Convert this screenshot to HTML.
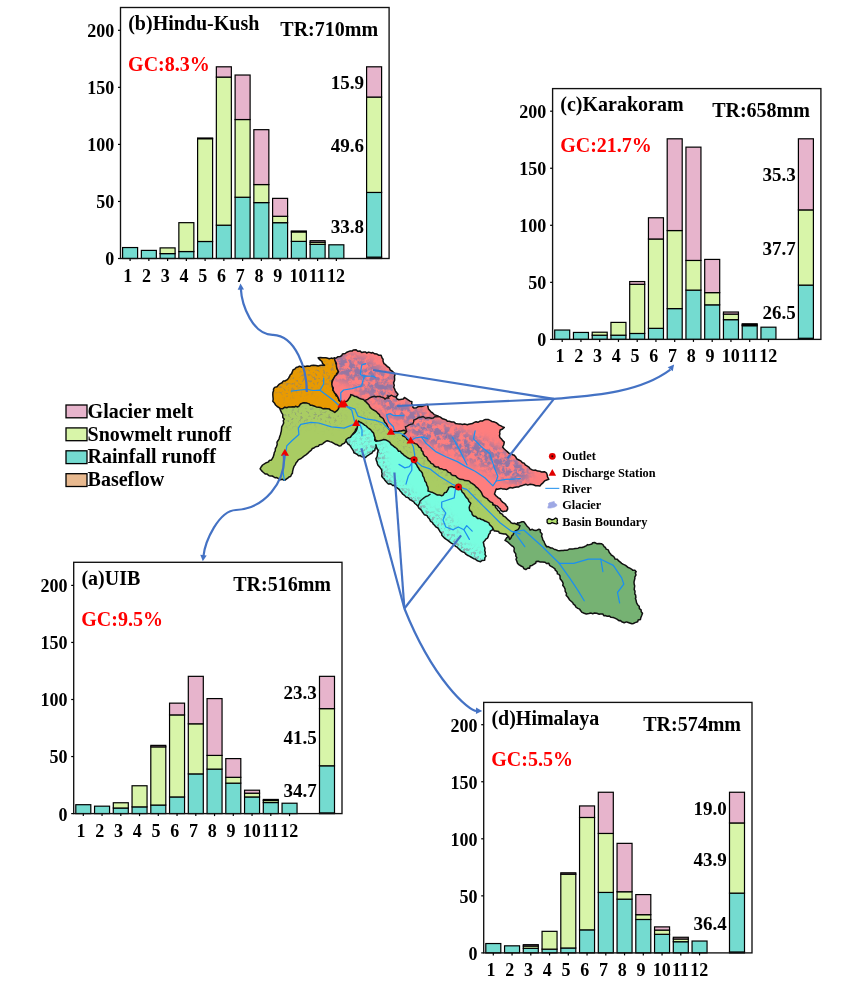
<!DOCTYPE html>
<html><head><meta charset="utf-8"><title>Runoff components</title>
<style>
html,body{margin:0;padding:0;background:#fff;}
svg{display:block;will-change:transform;}
text{font-family:'Liberation Serif',serif;font-weight:bold;fill:#000;}
.tk{font-size:18px;}
.xt{font-size:18px;}
.ti{font-size:20px;}
.gc{font-size:20px;fill:#f00;}
.pc{font-size:19px;}
.lg{font-size:20px;}
.ml{font-size:12.3px;}
</style></head>
<body>
<svg width="864" height="988" viewBox="0 0 864 988">
<defs>
<clipPath id="cpol"><polygon points="279.8,407.7 280.1,409.5 280.9,411.2 281.7,412.8 282.7,414.3 282.8,417.5 284.3,419.2 283.3,420.7 283.7,423.0 282.8,424.9 281.7,426.8 281.6,428.2 281.3,431.2 280.8,432.9 280.5,434.5 279.9,436.0 279.1,438.8 277.9,440.8 277.0,442.1 277.2,444.6 276.3,447.1 275.4,448.5 275.2,451.0 274.3,452.7 273.9,454.8 273.5,456.1 273.0,457.4 271.5,459.9 269.2,460.5 268.6,461.9 266.3,462.7 264.4,463.8 262.6,465.0 261.1,467.0 260.1,468.8 261.5,470.6 262.9,472.0 264.4,473.3 265.2,473.9 267.1,474.1 269.1,475.8 270.9,475.9 272.3,476.0 274.2,477.2 275.4,477.7 276.9,477.6 279.5,479.4 280.2,479.7 282.4,479.3 284.3,480.3 285.6,479.7 288.0,477.8 289.2,476.8 290.6,476.5 291.6,474.3 292.4,473.3 292.6,471.4 293.2,468.8 294.0,466.4 295.4,464.6 295.8,463.3 297.4,461.2 298.3,459.9 299.2,459.4 301.1,458.5 303.4,456.7 304.3,455.8 305.9,454.8 307.7,453.4 309.2,451.8 311.3,450.1 312.3,448.5 314.0,448.0 315.5,446.7 318.3,446.2 319.5,444.7 321.2,444.6 322.7,443.8 323.7,442.9 326.2,441.1 327.6,440.8 329.9,441.6 332.1,442.3 333.9,443.4 335.9,444.6 336.6,444.5 339.0,445.9 340.9,445.7 342.1,444.2 344.1,443.4 345.5,441.8 346.7,440.8 348.3,438.9 350.1,437.7 352.0,436.0 352.7,434.2 354.4,432.1 355.1,431.5 355.7,429.2 357.0,428.0 359.8,427.6 361.2,427.9 364.0,428.0 365.6,428.9 366.4,430.8 368.5,432.4 369.8,433.5 370.4,435.7 372.0,437.0 374.1,438.3 374.8,439.3 376.8,440.8 378.8,443.1 380.0,444.0 381.6,444.2 384.4,445.2 386.4,445.3 387.5,445.7 390.4,446.2 392.0,447.0 393.2,448.1 394.8,449.3 396.9,450.2 397.1,452.5 399.8,453.8 400.6,455.0 402.7,455.2 403.9,457.2 405.0,458.0 406.8,459.3 407.8,460.3 409.3,461.3 411.4,462.8 413.3,463.8 415.0,466.0 416.0,467.0 417.4,469.2 418.1,470.4 417.7,472.3 418.7,473.4 420.1,475.4 420.5,477.6 421.6,478.4 421.9,480.8 423.0,482.0 423.8,484.1 424.5,485.1 425.7,487.7 426.0,489.4 428.0,491.2 428.7,491.8 429.3,494.8 430.0,496.0 431.2,495.8 433.4,496.3 435.5,496.3 437.9,495.8 438.8,496.1 440.7,496.1 443.8,497.4 445.0,497.0 446.3,496.6 448.5,495.9 450.4,495.9 452.5,495.1 453.9,494.6 455.6,494.5 458.0,494.0 459.8,495.3 460.4,496.5 462.3,498.6 464.0,500.0 464.8,501.6 465.2,503.8 465.1,505.2 465.6,507.5 466.0,509.0 466.9,511.0 467.9,512.1 469.1,514.5 470.0,516.0 471.0,516.9 473.1,518.5 475.4,518.8 477.0,520.4 478.0,521.0 479.3,521.8 480.8,523.1 483.2,524.0 485.1,524.6 486.7,525.3 488.0,526.0 489.0,527.4 490.5,528.1 493.2,529.2 494.4,531.1 495.7,531.0 498.7,531.6 499.3,533.0 501.3,533.4 504.0,533.9 505.6,533.9 507.6,535.8 508.8,536.9 509.7,539.4 511.1,537.7 512.1,535.4 513.2,534.8 513.9,532.5 515.3,530.9 518.0,529.7 519.1,528.1 520.0,525.6 516.7,524.2 514.5,523.3 512.6,523.4 511.1,522.8 510.1,521.3 508.2,519.9 506.8,518.5 505.6,517.2 503.1,515.8 502.5,514.3 500.0,513.0 499.2,511.1 498.0,510.5 496.9,508.7 495.5,507.4 495.0,505.3 492.8,504.7 492.8,502.9 491.0,501.8 490.0,500.0 488.3,498.3 487.1,497.4 486.0,495.5 485.3,495.1 483.5,493.4 482.4,492.2 481.4,490.0 479.6,488.3 478.7,487.5 477.0,486.1 476.0,485.3 474.5,484.2 473.7,482.3 472.5,481.2 471.7,479.5 470.0,478.0 468.5,477.2 467.6,475.7 466.0,475.4 464.2,473.2 462.5,472.8 461.7,472.1 460.5,470.0 458.1,468.9 456.7,468.4 456.2,467.6 453.9,466.5 452.6,464.7 451.7,463.2 449.4,463.1 448.3,461.4 447.3,460.7 445.0,459.1 444.2,458.3 442.5,457.3 442.1,455.9 440.0,455.0 438.8,453.2 437.1,452.6 435.5,451.6 435.4,449.2 434.1,448.3 432.6,447.5 430.6,446.1 429.8,445.0 427.9,443.6 427.6,442.2 425.7,440.1 424.3,439.1 423.3,438.3 421.8,436.3 420.6,435.6 418.7,434.7 418.0,432.3 417.1,431.0 415.0,430.5 414.0,429.0 412.8,427.5 411.0,425.9 410.0,425.0 407.9,424.3 407.4,423.1 405.8,421.8 403.7,420.8 403.0,419.4 401.0,418.6 399.9,417.8 397.8,416.9 396.6,416.4 394.8,415.5 393.0,413.7 391.4,412.5 390.9,412.3 388.6,410.6 387.4,410.3 386.4,409.3 384.6,407.5 382.9,406.6 381.5,406.1 380.0,405.0 378.0,403.7 377.3,402.3 375.8,402.5 374.5,400.8 372.4,400.1 371.0,399.7 369.5,397.7 368.2,397.0 366.3,396.3 363.9,395.4 363.3,394.0 361.6,392.9 360.0,392.0 357.7,392.4 355.6,392.8 354.6,393.0 352.6,394.1 351.2,393.4 349.2,394.4 346.2,394.4 345.0,395.0 343.2,395.8 342.2,398.5 340.5,399.8 339.6,400.2 338.4,402.3 337.0,403.9 335.0,405.0 333.5,404.5 331.7,405.1 330.0,404.1 328.0,403.9 325.2,403.0 323.4,403.0 321.6,403.2 320.5,402.9 318.3,402.8 316.3,402.3 315.1,402.0 312.4,402.4 311.4,401.4 309.0,401.4 307.5,400.7 304.8,400.4 304.1,400.0 301.8,399.8 300.0,400.0 297.8,399.7 296.3,399.9 293.9,400.1 292.3,400.8 290.4,400.3 289.1,401.1 287.7,400.8 285.5,401.5 283.1,402.5 282.0,402.0 280.9,403.3 280.5,405.3"/></clipPath>
<filter id="blol" x="200" y="300" width="520" height="380" filterUnits="userSpaceOnUse"><feGaussianBlur stdDeviation="5"/></filter>
<mask id="mkol" maskUnits="userSpaceOnUse" x="200" y="300" width="520" height="380"><g filter="url(#blol)"><path d="M285,418 L310,414 L335,418" fill="none" stroke="#fff" stroke-opacity="0.8" stroke-width="14" stroke-linecap="round" stroke-linejoin="round"/><path d="M360,412 L400,440 L440,470 L480,500" fill="none" stroke="#fff" stroke-opacity="0.6" stroke-width="10" stroke-linecap="round" stroke-linejoin="round"/></g></mask>
<filter id="fol" x="250" y="340" width="420" height="300" filterUnits="userSpaceOnUse"><feTurbulence type="fractalNoise" baseFrequency="0.35" numOctaves="3" seed="21" result="n"/><feColorMatrix in="n" type="matrix" values="0 0 0 0 0  0 0 0 0 0  0 0 0 0 0  6.0 0 0 0 -3.3" result="a"/><feFlood flood-color="#8a9878"/><feComposite in2="a" operator="in"/></filter>
<clipPath id="cpcy"><polygon points="358.5,421.0 360.7,422.6 360.9,422.4 363.1,423.9 365.0,425.4 366.2,425.9 367.6,427.5 368.9,428.5 370.6,429.6 371.9,431.4 373.6,433.1 374.3,436.1 375.0,437.8 374.7,440.1 375.9,441.2 379.4,440.7 381.6,440.2 383.4,439.6 386.3,440.1 388.0,441.0 389.8,442.4 391.2,444.5 392.9,445.6 394.4,447.0 395.4,447.5 396.9,448.8 398.6,451.2 400.2,451.2 401.3,452.8 403.3,454.4 404.5,455.7 406.0,456.7 407.1,457.5 409.2,458.7 411.8,458.6 413.6,459.6 414.5,461.8 415.2,463.0 416.4,464.4 417.5,466.7 418.7,468.3 419.6,470.1 421.0,471.3 422.4,473.3 422.8,475.9 423.9,477.4 424.5,479.4 424.9,481.1 426.3,482.8 426.8,485.2 427.8,486.8 428.2,488.8 428.0,491.0 430.6,491.9 431.9,492.2 433.8,493.2 435.8,494.2 437.5,495.0 439.3,494.9 441.7,495.7 443.1,495.1 444.6,492.7 446.3,492.3 447.2,490.8 448.5,488.7 448.6,487.4 450.9,486.6 452.7,486.8 454.0,487.5 455.8,486.9 458.3,486.7 460.2,487.7 461.1,489.4 462.1,492.0 463.9,493.6 465.2,495.8 466.0,497.1 468.1,499.2 469.0,501.5 470.8,503.3 469.7,505.8 469.2,507.4 469.4,508.9 469.7,510.4 471.7,512.1 472.2,514.4 473.6,516.1 475.8,516.6 477.8,518.6 480.3,518.6 480.8,519.3 483.3,520.0 485.3,521.3 486.5,521.6 488.9,522.8 489.6,524.6 492.0,526.8 493.0,528.3 492.2,530.1 490.3,531.1 490.1,533.1 488.9,534.2 488.4,536.1 487.5,538.1 485.5,539.4 485.2,540.3 483.3,542.2 483.8,544.2 484.0,545.9 485.0,548.2 484.7,550.6 485.3,552.3 485.0,554.3 486.1,556.1 484.9,557.6 484.7,560.3 482.0,560.5 480.6,561.7 478.2,561.0 476.9,560.5 475.0,558.9 473.7,558.7 470.9,557.0 469.4,556.1 467.3,555.2 466.1,554.4 464.5,552.6 462.5,551.9 460.7,550.6 458.4,548.5 457.2,547.2 455.6,546.4 454.0,544.6 451.3,543.2 450.0,542.2 447.8,540.4 446.3,539.4 444.4,538.1 443.0,536.6 441.8,535.3 441.7,533.4 439.9,531.4 438.9,529.7 437.6,527.7 436.0,527.0 434.3,525.0 433.3,524.2 432.3,522.3 430.6,521.3 429.3,518.7 427.8,517.2 427.1,515.6 424.3,514.7 423.0,512.8 422.2,511.7 421.3,510.1 418.7,507.9 418.0,506.1 416.5,504.7 414.9,503.5 413.9,502.0 411.4,500.3 410.0,499.8 408.3,497.8 406.0,497.1 404.8,495.6 402.8,494.2 401.6,492.5 400.2,491.0 399.1,489.4 396.8,487.6 395.3,487.1 394.4,485.2 392.7,485.5 390.8,483.8 388.6,484.1 387.1,482.7 385.1,480.6 384.3,479.1 382.6,477.5 381.7,476.0 382.1,473.7 381.7,472.1 381.7,470.2 381.2,469.1 380.0,467.6 378.2,465.6 377.3,463.5 377.0,461.8 376.4,460.6 375.9,458.6 377.1,456.7 377.5,454.0 377.4,453.2 378.2,450.5 376.9,448.5 376.1,446.1 375.9,444.7 376.1,447.3 375.3,448.0 374.7,450.5 372.9,451.3 371.9,453.1 370.1,454.0 368.5,455.2 366.5,456.4 365.5,457.5 364.4,457.4 361.4,456.6 360.6,455.8 358.5,455.7 357.5,454.7 355.7,453.6 353.9,452.8 353.4,450.9 351.6,448.2 350.5,446.3 349.2,444.6 348.2,444.4 346.9,442.4 345.8,440.1 346.8,439.0 348.7,437.7 350.4,437.3 351.6,435.5 353.4,433.9 355.3,432.1 356.2,430.8 356.9,429.1 357.4,427.4 357.4,425.0 357.6,423.2"/></clipPath>
<filter id="blcy" x="200" y="300" width="520" height="380" filterUnits="userSpaceOnUse"><feGaussianBlur stdDeviation="3"/></filter>
<mask id="mkcy" maskUnits="userSpaceOnUse" x="200" y="300" width="520" height="380"><g filter="url(#blcy)"><path d="M347,444 L360,456 L372,452" fill="none" stroke="#fff" stroke-opacity="1.0" stroke-width="12" stroke-linecap="round" stroke-linejoin="round"/><path d="M358,430 L366,440" fill="none" stroke="#fff" stroke-opacity="0.6" stroke-width="10" stroke-linecap="round" stroke-linejoin="round"/><path d="M378,450 L380,470 L386,482 L400,492 L418,506" fill="none" stroke="#fff" stroke-opacity="1.0" stroke-width="12" stroke-linecap="round" stroke-linejoin="round"/><path d="M420,510 L440,532 L460,550 L482,560" fill="none" stroke="#fff" stroke-opacity="1.0" stroke-width="12" stroke-linecap="round" stroke-linejoin="round"/><path d="M440,512 L455,530" fill="none" stroke="#fff" stroke-opacity="0.5" stroke-width="10" stroke-linecap="round" stroke-linejoin="round"/></g></mask>
<filter id="fcy" x="250" y="340" width="420" height="300" filterUnits="userSpaceOnUse"><feTurbulence type="fractalNoise" baseFrequency="0.35" numOctaves="3" seed="14" result="n"/><feColorMatrix in="n" type="matrix" values="0 0 0 0 0  0 0 0 0 0  0 0 0 0 0  6.0 0 0 0 -2.9" result="a"/><feFlood flood-color="#86a8ac"/><feComposite in2="a" operator="in"/></filter>
<clipPath id="cpor"><polygon points="272.8,394.8 272.9,392.4 273.6,390.6 273.5,389.1 274.6,387.4 277.0,386.7 278.7,384.7 280.2,383.6 282.0,382.8 283.2,381.1 284.9,381.0 287.3,379.7 288.5,378.1 289.8,376.0 290.1,375.0 291.6,373.6 292.7,370.9 293.1,369.8 294.8,369.1 296.2,367.5 297.8,367.0 299.6,366.2 302.1,367.2 303.4,366.2 305.7,366.4 307.0,366.1 309.7,366.3 311.3,365.4 313.5,365.2 315.9,365.6 318.1,366.1 319.8,365.5 322.9,364.9 324.6,365.2 322.6,363.5 321.9,361.5 319.7,359.7 318.1,357.8 320.4,357.6 322.8,357.8 325.7,357.7 327.0,358.0 329.3,358.7 331.3,358.1 332.8,358.4 334.8,357.8 335.1,359.9 336.4,361.2 335.8,363.4 337.3,365.9 337.1,367.5 337.5,369.7 338.5,371.7 336.6,373.5 336.6,375.4 334.8,376.3 334.2,379.1 332.3,380.3 332.0,382.8 332.9,385.0 332.4,387.1 332.9,388.8 333.0,390.2 333.8,391.4 335.1,393.0 336.1,395.8 337.2,396.2 338.5,398.5 338.8,399.9 340.8,402.0 341.3,404.1 339.6,405.8 338.5,408.7 337.3,410.4 334.8,412.4 332.5,410.9 330.5,410.1 329.5,409.1 327.4,408.7 324.9,408.4 323.3,408.8 321.3,407.8 320.4,407.4 318.8,407.2 316.3,406.9 314.1,406.0 311.9,405.3 310.4,405.2 309.3,403.9 307.0,403.1 304.0,402.8 302.4,403.1 300.5,404.0 299.0,406.2 297.8,406.9 295.4,406.3 294.7,407.0 292.9,406.8 290.9,407.1 288.5,406.9 287.1,407.7 284.8,407.2 282.5,408.8 281.1,408.7 279.8,408.1 277.2,406.5 275.6,405.0 274.6,403.3 272.8,401.3 273.2,399.2 273.0,397.2"/></clipPath>
<filter id="blor" x="200" y="300" width="520" height="380" filterUnits="userSpaceOnUse"><feGaussianBlur stdDeviation="6"/></filter>
<mask id="mkor" maskUnits="userSpaceOnUse" x="200" y="300" width="520" height="380"><g filter="url(#blor)"><path d="M285,385 L310,378 L330,372" fill="none" stroke="#fff" stroke-opacity="0.8" stroke-width="24" stroke-linecap="round" stroke-linejoin="round"/></g></mask>
<filter id="for" x="250" y="340" width="420" height="300" filterUnits="userSpaceOnUse"><feTurbulence type="fractalNoise" baseFrequency="0.35" numOctaves="3" seed="28" result="n"/><feColorMatrix in="n" type="matrix" values="0 0 0 0 0  0 0 0 0 0  0 0 0 0 0  6.0 0 0 0 -3.3" result="a"/><feFlood flood-color="#9a8660"/><feComposite in2="a" operator="in"/></filter>
<clipPath id="cppk"><polygon points="334.5,358.5 336.4,357.9 338.0,356.7 340.1,356.5 341.7,355.6 342.4,354.1 345.3,353.5 346.4,352.5 348.9,351.4 350.2,351.0 352.3,350.9 353.5,349.9 356.1,349.7 357.7,351.2 360.2,351.1 361.7,352.5 364.0,352.0 365.6,352.0 366.6,353.0 368.7,352.1 371.6,353.0 372.8,352.5 374.6,353.8 377.0,354.1 378.6,355.2 381.1,355.3 382.1,358.0 383.1,359.2 383.0,361.1 383.9,363.6 385.2,364.4 387.3,366.5 389.4,367.8 390.1,369.8 392.0,371.0 394.0,372.9 395.0,374.7 394.4,376.7 394.6,378.2 394.6,380.3 393.6,383.0 394.3,385.4 393.7,387.2 394.6,388.8 395.2,390.6 395.9,391.8 398.0,394.3 396.1,397.0 397.1,399.0 398.9,399.8 400.3,399.4 403.2,398.9 404.4,397.5 406.0,398.4 408.1,399.8 410.0,401.1 411.9,401.7 411.7,403.9 412.9,405.9 412.8,407.2 414.0,408.1 416.5,407.7 417.8,406.8 420.2,406.3 422.2,406.4 423.7,405.9 425.8,404.6 427.6,404.4 427.8,406.3 428.5,409.1 429.3,410.0 431.6,412.5 432.2,412.6 434.1,414.6 437.1,415.6 438.7,416.5 440.4,417.1 442.6,418.8 444.3,419.3 446.1,419.9 447.4,421.2 449.2,421.3 451.7,422.0 454.0,422.0 455.7,423.6 457.4,423.8 459.1,423.9 460.4,423.9 462.4,424.5 464.5,424.1 467.4,424.7 468.6,424.3 471.2,423.7 472.4,423.6 474.3,422.4 476.1,421.7 477.9,422.3 480.0,421.1 482.7,420.9 484.0,420.0 485.5,419.5 488.1,419.4 490.5,420.7 492.0,421.5 494.6,422.1 496.2,422.7 498.0,424.1 499.2,425.1 501.0,425.9 502.3,426.7 504.3,427.5 502.6,429.0 500.2,430.0 499.6,432.5 499.9,433.9 499.4,435.7 499.9,437.4 501.5,439.1 503.0,440.9 504.3,442.1 503.7,445.0 502.6,447.0 504.0,448.8 506.2,450.7 507.5,451.9 508.9,453.2 511.3,453.8 513.0,454.9 514.0,455.1 515.7,456.8 516.8,458.8 518.9,460.0 521.1,461.2 522.4,462.7 524.0,463.1 525.3,464.8 527.3,466.1 528.8,467.1 530.3,468.9 531.8,469.7 534.0,470.4 535.2,470.0 537.8,471.1 539.9,471.3 541.7,472.1 544.4,471.7 546.4,472.9 547.2,474.7 547.4,476.7 548.8,479.4 546.7,480.0 544.6,480.9 543.2,482.6 541.5,484.1 539.9,485.9 538.1,485.7 535.7,485.8 533.4,484.8 531.8,484.5 530.2,484.3 527.7,485.1 526.1,484.3 524.5,484.7 522.5,485.4 520.5,485.9 518.4,487.1 516.6,486.9 514.0,487.5 512.5,488.0 509.9,487.6 508.3,488.5 506.9,489.4 504.3,489.1 502.4,488.9 500.8,488.4 497.7,489.2 496.2,489.1 495.5,491.0 494.5,494.0 496.0,495.8 496.9,496.5 498.0,497.6 500.4,499.0 501.0,500.5 502.9,502.4 503.7,502.8 505.6,504.4 506.1,505.4 507.5,507.0 507.7,509.0 506.5,511.0 504.4,511.3 502.8,511.7 500.9,510.5 499.9,508.6 499.0,508.0 497.2,506.1 494.8,505.1 493.4,504.6 492.4,502.6 490.3,501.9 488.2,500.0 487.5,498.9 485.2,497.7 483.3,496.4 482.4,494.9 481.4,492.5 480.4,491.1 478.9,489.5 477.8,488.1 476.1,487.0 475.0,485.6 473.9,484.7 471.6,483.1 470.7,482.8 469.4,481.1 468.1,480.7 465.0,480.6 463.7,479.8 462.3,479.4 460.1,479.3 458.3,478.3 456.6,477.1 455.6,475.8 453.3,475.6 451.3,474.6 450.6,473.0 448.5,472.4 447.2,471.0 445.9,469.8 443.5,469.7 441.7,468.8 439.4,468.5 438.5,467.1 436.2,467.0 434.2,466.0 433.4,464.4 430.7,463.1 430.4,462.1 428.1,460.0 427.2,457.9 426.2,456.6 424.7,456.1 423.3,454.0 422.8,451.6 421.5,450.7 421.0,448.2 419.1,447.2 418.0,445.4 416.8,444.1 415.2,443.6 413.1,442.5 411.5,441.0 410.6,440.7 408.3,440.1 407.0,439.3 405.9,437.3 403.9,436.4 402.5,435.5 404.0,434.1 405.8,432.6 406.6,431.4 403.7,430.3 401.1,430.9 399.2,431.0 397.6,431.7 395.6,431.4 393.3,431.6 390.9,431.4 389.4,429.7 388.3,428.3 387.5,426.2 386.4,423.8 384.8,422.2 384.0,420.4 383.2,418.5 382.0,417.7 380.0,416.3 379.4,414.6 377.4,412.9 376.6,411.9 375.6,411.1 373.6,410.0 372.1,409.1 370.4,407.7 369.2,405.6 369.1,405.0 366.9,402.9 366.6,402.3 364.7,400.8 363.4,399.5 361.4,399.0 359.1,398.2 357.9,397.5 355.9,396.4 354.7,396.4 353.0,395.3 350.8,394.6 350.4,396.5 349.1,398.4 348.0,400.1 346.8,401.2 344.4,401.9 343.1,403.1 342.0,405.0 341.7,403.3 340.6,401.1 339.3,400.7 338.5,398.5 337.6,396.7 336.3,394.6 334.7,393.0 333.9,391.7 333.0,390.2 333.3,387.9 332.2,386.2 331.8,384.4 332.0,382.8 332.6,380.6 333.2,379.1 334.8,376.3 335.8,375.4 337.5,373.5 338.5,371.7 337.9,370.4 336.8,368.1 336.4,366.1 336.4,363.5 335.5,362.0 334.6,359.6"/></clipPath>
<filter id="blpk" x="200" y="300" width="520" height="380" filterUnits="userSpaceOnUse"><feGaussianBlur stdDeviation="5"/></filter>
<mask id="mkpk" maskUnits="userSpaceOnUse" x="200" y="300" width="520" height="380"><g filter="url(#blpk)"><path d="M340,366 L362,372 L385,385" fill="none" stroke="#fff" stroke-opacity="0.95" stroke-width="26" stroke-linecap="round" stroke-linejoin="round"/><path d="M390,408 L410,414 L425,424" fill="none" stroke="#fff" stroke-opacity="0.95" stroke-width="18" stroke-linecap="round" stroke-linejoin="round"/><path d="M420,428 L448,438 L475,450 L500,462 L518,472" fill="none" stroke="#fff" stroke-opacity="1.0" stroke-width="24" stroke-linecap="round" stroke-linejoin="round"/><path d="M360,394 L385,398 L400,403" fill="none" stroke="#fff" stroke-opacity="0.8" stroke-width="10" stroke-linecap="round" stroke-linejoin="round"/></g></mask>
<filter id="fpk" x="250" y="340" width="420" height="300" filterUnits="userSpaceOnUse"><feTurbulence type="fractalNoise" baseFrequency="0.2" numOctaves="3" seed="35" result="n"/><feColorMatrix in="n" type="matrix" values="0 0 0 0 0  0 0 0 0 0  0 0 0 0 0  5.0 0 0 0 -1.9" result="a"/><feFlood flood-color="#8d76a6"/><feComposite in2="a" operator="in"/></filter>
</defs>
<polygon points="517.5,522.7 519.1,522.9 522.0,521.7 523.8,521.7 525.0,523.3 526.5,525.4 526.9,526.0 529.2,528.2 530.0,530.0 532.4,529.3 534.1,530.3 535.9,530.6 538.9,529.3 540.4,530.0 540.3,532.1 542.1,534.0 541.6,536.1 542.5,538.3 542.7,539.6 544.1,541.7 544.6,543.0 545.5,545.0 546.7,546.7 548.2,546.6 550.7,548.0 552.3,548.0 554.5,549.5 555.1,549.4 557.7,550.5 559.2,550.8 561.6,550.4 563.3,550.5 564.4,550.2 567.0,550.3 568.3,549.6 569.5,548.9 572.3,548.9 573.8,548.8 575.4,548.4 578.2,548.2 579.8,547.4 582.1,547.5 584.2,546.7 586.0,545.9 587.7,544.6 588.8,544.9 591.8,544.0 592.7,542.7 594.6,542.5 596.7,543.7 599.1,543.6 601.3,543.7 602.9,544.6 604.1,546.7 605.4,547.5 606.2,549.1 608.3,549.9 609.3,552.5 610.6,553.9 611.2,555.0 613.2,556.2 614.3,557.3 615.1,559.1 617.3,559.3 618.7,560.9 620.0,561.9 621.7,563.3 623.4,564.4 625.1,565.1 625.9,565.7 627.7,567.2 630.3,568.4 631.8,569.3 632.7,570.3 634.9,570.2 636.2,571.7 635.3,572.8 636.0,574.9 634.8,577.2 634.9,578.2 634.3,580.7 634.0,582.1 634.2,584.2 634.7,586.0 634.4,587.9 634.2,589.6 635.0,591.1 634.8,594.0 635.6,594.9 635.9,597.6 635.4,598.3 636.2,600.8 636.6,602.9 637.6,604.7 639.2,606.2 639.4,608.6 641.1,609.8 641.2,611.7 642.5,613.3 641.7,615.5 640.8,617.7 640.4,619.6 638.1,620.1 637.7,621.8 635.1,622.6 633.4,623.5 632.0,623.8 630.3,623.2 627.5,622.2 626.4,621.9 624.2,622.8 621.7,621.7 620.1,620.4 618.9,620.7 616.9,619.2 614.8,618.1 613.3,617.5 611.0,617.3 609.5,616.1 607.2,616.3 605.6,615.6 603.8,615.7 602.8,614.0 600.0,614.0 599.2,614.2 596.7,613.3 594.4,612.9 592.8,613.8 591.1,613.1 588.9,613.6 586.3,614.0 584.2,613.3 582.1,612.4 580.3,610.3 579.7,609.1 577.8,608.4 575.8,607.0 575.1,605.3 573.2,603.8 572.8,602.7 571.7,601.7 569.4,599.7 568.1,597.5 567.5,596.7 566.2,595.4 566.5,593.4 565.2,591.3 565.1,589.1 564.1,587.0 562.7,585.2 563.2,583.8 562.5,581.8 561.2,580.0 560.1,578.7 560.0,576.0 559.0,574.4 557.4,573.9 557.1,571.7 555.1,569.9 555.0,568.8 552.4,567.0 551.2,566.4 549.6,565.3 548.8,563.3 546.5,563.5 545.1,562.2 542.1,562.0 539.8,561.9 538.3,561.2 536.1,561.6 535.8,563.0 533.7,564.3 532.0,565.4 530.2,565.8 529.5,568.2 528.0,568.0 525.8,569.6 523.7,568.5 523.2,567.1 521.1,566.0 518.8,564.6 517.5,563.3 516.8,561.1 516.0,559.3 516.8,557.7 515.8,556.1 515.8,553.9 514.4,552.0 514.0,550.9 514.3,548.3 513.3,546.7 511.4,545.5 510.1,544.3 508.0,542.2 506.3,541.1 505.0,540.4 506.3,538.3 506.9,537.6 508.5,536.4 510.0,535.0 511.2,533.0 511.8,531.3 513.7,529.0 515.0,527.4 515.8,526.8 516.9,524.2" fill="#76b273"/>
<polygon points="517.5,522.7 519.1,522.9 522.0,521.7 523.8,521.7 525.0,523.3 526.5,525.4 526.9,526.0 529.2,528.2 530.0,530.0 532.4,529.3 534.1,530.3 535.9,530.6 538.9,529.3 540.4,530.0 540.3,532.1 542.1,534.0 541.6,536.1 542.5,538.3 542.7,539.6 544.1,541.7 544.6,543.0 545.5,545.0 546.7,546.7 548.2,546.6 550.7,548.0 552.3,548.0 554.5,549.5 555.1,549.4 557.7,550.5 559.2,550.8 561.6,550.4 563.3,550.5 564.4,550.2 567.0,550.3 568.3,549.6 569.5,548.9 572.3,548.9 573.8,548.8 575.4,548.4 578.2,548.2 579.8,547.4 582.1,547.5 584.2,546.7 586.0,545.9 587.7,544.6 588.8,544.9 591.8,544.0 592.7,542.7 594.6,542.5 596.7,543.7 599.1,543.6 601.3,543.7 602.9,544.6 604.1,546.7 605.4,547.5 606.2,549.1 608.3,549.9 609.3,552.5 610.6,553.9 611.2,555.0 613.2,556.2 614.3,557.3 615.1,559.1 617.3,559.3 618.7,560.9 620.0,561.9 621.7,563.3 623.4,564.4 625.1,565.1 625.9,565.7 627.7,567.2 630.3,568.4 631.8,569.3 632.7,570.3 634.9,570.2 636.2,571.7 635.3,572.8 636.0,574.9 634.8,577.2 634.9,578.2 634.3,580.7 634.0,582.1 634.2,584.2 634.7,586.0 634.4,587.9 634.2,589.6 635.0,591.1 634.8,594.0 635.6,594.9 635.9,597.6 635.4,598.3 636.2,600.8 636.6,602.9 637.6,604.7 639.2,606.2 639.4,608.6 641.1,609.8 641.2,611.7 642.5,613.3 641.7,615.5 640.8,617.7 640.4,619.6 638.1,620.1 637.7,621.8 635.1,622.6 633.4,623.5 632.0,623.8 630.3,623.2 627.5,622.2 626.4,621.9 624.2,622.8 621.7,621.7 620.1,620.4 618.9,620.7 616.9,619.2 614.8,618.1 613.3,617.5 611.0,617.3 609.5,616.1 607.2,616.3 605.6,615.6 603.8,615.7 602.8,614.0 600.0,614.0 599.2,614.2 596.7,613.3 594.4,612.9 592.8,613.8 591.1,613.1 588.9,613.6 586.3,614.0 584.2,613.3 582.1,612.4 580.3,610.3 579.7,609.1 577.8,608.4 575.8,607.0 575.1,605.3 573.2,603.8 572.8,602.7 571.7,601.7 569.4,599.7 568.1,597.5 567.5,596.7 566.2,595.4 566.5,593.4 565.2,591.3 565.1,589.1 564.1,587.0 562.7,585.2 563.2,583.8 562.5,581.8 561.2,580.0 560.1,578.7 560.0,576.0 559.0,574.4 557.4,573.9 557.1,571.7 555.1,569.9 555.0,568.8 552.4,567.0 551.2,566.4 549.6,565.3 548.8,563.3 546.5,563.5 545.1,562.2 542.1,562.0 539.8,561.9 538.3,561.2 536.1,561.6 535.8,563.0 533.7,564.3 532.0,565.4 530.2,565.8 529.5,568.2 528.0,568.0 525.8,569.6 523.7,568.5 523.2,567.1 521.1,566.0 518.8,564.6 517.5,563.3 516.8,561.1 516.0,559.3 516.8,557.7 515.8,556.1 515.8,553.9 514.4,552.0 514.0,550.9 514.3,548.3 513.3,546.7 511.4,545.5 510.1,544.3 508.0,542.2 506.3,541.1 505.0,540.4 506.3,538.3 506.9,537.6 508.5,536.4 510.0,535.0 511.2,533.0 511.8,531.3 513.7,529.0 515.0,527.4 515.8,526.8 516.9,524.2" fill="none" stroke="#111" stroke-width="1.5" stroke-linejoin="round"/>
<polygon points="279.8,407.7 280.1,409.5 280.9,411.2 281.7,412.8 282.7,414.3 282.8,417.5 284.3,419.2 283.3,420.7 283.7,423.0 282.8,424.9 281.7,426.8 281.6,428.2 281.3,431.2 280.8,432.9 280.5,434.5 279.9,436.0 279.1,438.8 277.9,440.8 277.0,442.1 277.2,444.6 276.3,447.1 275.4,448.5 275.2,451.0 274.3,452.7 273.9,454.8 273.5,456.1 273.0,457.4 271.5,459.9 269.2,460.5 268.6,461.9 266.3,462.7 264.4,463.8 262.6,465.0 261.1,467.0 260.1,468.8 261.5,470.6 262.9,472.0 264.4,473.3 265.2,473.9 267.1,474.1 269.1,475.8 270.9,475.9 272.3,476.0 274.2,477.2 275.4,477.7 276.9,477.6 279.5,479.4 280.2,479.7 282.4,479.3 284.3,480.3 285.6,479.7 288.0,477.8 289.2,476.8 290.6,476.5 291.6,474.3 292.4,473.3 292.6,471.4 293.2,468.8 294.0,466.4 295.4,464.6 295.8,463.3 297.4,461.2 298.3,459.9 299.2,459.4 301.1,458.5 303.4,456.7 304.3,455.8 305.9,454.8 307.7,453.4 309.2,451.8 311.3,450.1 312.3,448.5 314.0,448.0 315.5,446.7 318.3,446.2 319.5,444.7 321.2,444.6 322.7,443.8 323.7,442.9 326.2,441.1 327.6,440.8 329.9,441.6 332.1,442.3 333.9,443.4 335.9,444.6 336.6,444.5 339.0,445.9 340.9,445.7 342.1,444.2 344.1,443.4 345.5,441.8 346.7,440.8 348.3,438.9 350.1,437.7 352.0,436.0 352.7,434.2 354.4,432.1 355.1,431.5 355.7,429.2 357.0,428.0 359.8,427.6 361.2,427.9 364.0,428.0 365.6,428.9 366.4,430.8 368.5,432.4 369.8,433.5 370.4,435.7 372.0,437.0 374.1,438.3 374.8,439.3 376.8,440.8 378.8,443.1 380.0,444.0 381.6,444.2 384.4,445.2 386.4,445.3 387.5,445.7 390.4,446.2 392.0,447.0 393.2,448.1 394.8,449.3 396.9,450.2 397.1,452.5 399.8,453.8 400.6,455.0 402.7,455.2 403.9,457.2 405.0,458.0 406.8,459.3 407.8,460.3 409.3,461.3 411.4,462.8 413.3,463.8 415.0,466.0 416.0,467.0 417.4,469.2 418.1,470.4 417.7,472.3 418.7,473.4 420.1,475.4 420.5,477.6 421.6,478.4 421.9,480.8 423.0,482.0 423.8,484.1 424.5,485.1 425.7,487.7 426.0,489.4 428.0,491.2 428.7,491.8 429.3,494.8 430.0,496.0 431.2,495.8 433.4,496.3 435.5,496.3 437.9,495.8 438.8,496.1 440.7,496.1 443.8,497.4 445.0,497.0 446.3,496.6 448.5,495.9 450.4,495.9 452.5,495.1 453.9,494.6 455.6,494.5 458.0,494.0 459.8,495.3 460.4,496.5 462.3,498.6 464.0,500.0 464.8,501.6 465.2,503.8 465.1,505.2 465.6,507.5 466.0,509.0 466.9,511.0 467.9,512.1 469.1,514.5 470.0,516.0 471.0,516.9 473.1,518.5 475.4,518.8 477.0,520.4 478.0,521.0 479.3,521.8 480.8,523.1 483.2,524.0 485.1,524.6 486.7,525.3 488.0,526.0 489.0,527.4 490.5,528.1 493.2,529.2 494.4,531.1 495.7,531.0 498.7,531.6 499.3,533.0 501.3,533.4 504.0,533.9 505.6,533.9 507.6,535.8 508.8,536.9 509.7,539.4 511.1,537.7 512.1,535.4 513.2,534.8 513.9,532.5 515.3,530.9 518.0,529.7 519.1,528.1 520.0,525.6 516.7,524.2 514.5,523.3 512.6,523.4 511.1,522.8 510.1,521.3 508.2,519.9 506.8,518.5 505.6,517.2 503.1,515.8 502.5,514.3 500.0,513.0 499.2,511.1 498.0,510.5 496.9,508.7 495.5,507.4 495.0,505.3 492.8,504.7 492.8,502.9 491.0,501.8 490.0,500.0 488.3,498.3 487.1,497.4 486.0,495.5 485.3,495.1 483.5,493.4 482.4,492.2 481.4,490.0 479.6,488.3 478.7,487.5 477.0,486.1 476.0,485.3 474.5,484.2 473.7,482.3 472.5,481.2 471.7,479.5 470.0,478.0 468.5,477.2 467.6,475.7 466.0,475.4 464.2,473.2 462.5,472.8 461.7,472.1 460.5,470.0 458.1,468.9 456.7,468.4 456.2,467.6 453.9,466.5 452.6,464.7 451.7,463.2 449.4,463.1 448.3,461.4 447.3,460.7 445.0,459.1 444.2,458.3 442.5,457.3 442.1,455.9 440.0,455.0 438.8,453.2 437.1,452.6 435.5,451.6 435.4,449.2 434.1,448.3 432.6,447.5 430.6,446.1 429.8,445.0 427.9,443.6 427.6,442.2 425.7,440.1 424.3,439.1 423.3,438.3 421.8,436.3 420.6,435.6 418.7,434.7 418.0,432.3 417.1,431.0 415.0,430.5 414.0,429.0 412.8,427.5 411.0,425.9 410.0,425.0 407.9,424.3 407.4,423.1 405.8,421.8 403.7,420.8 403.0,419.4 401.0,418.6 399.9,417.8 397.8,416.9 396.6,416.4 394.8,415.5 393.0,413.7 391.4,412.5 390.9,412.3 388.6,410.6 387.4,410.3 386.4,409.3 384.6,407.5 382.9,406.6 381.5,406.1 380.0,405.0 378.0,403.7 377.3,402.3 375.8,402.5 374.5,400.8 372.4,400.1 371.0,399.7 369.5,397.7 368.2,397.0 366.3,396.3 363.9,395.4 363.3,394.0 361.6,392.9 360.0,392.0 357.7,392.4 355.6,392.8 354.6,393.0 352.6,394.1 351.2,393.4 349.2,394.4 346.2,394.4 345.0,395.0 343.2,395.8 342.2,398.5 340.5,399.8 339.6,400.2 338.4,402.3 337.0,403.9 335.0,405.0 333.5,404.5 331.7,405.1 330.0,404.1 328.0,403.9 325.2,403.0 323.4,403.0 321.6,403.2 320.5,402.9 318.3,402.8 316.3,402.3 315.1,402.0 312.4,402.4 311.4,401.4 309.0,401.4 307.5,400.7 304.8,400.4 304.1,400.0 301.8,399.8 300.0,400.0 297.8,399.7 296.3,399.9 293.9,400.1 292.3,400.8 290.4,400.3 289.1,401.1 287.7,400.8 285.5,401.5 283.1,402.5 282.0,402.0 280.9,403.3 280.5,405.3" fill="#a9cc63"/>
<g clip-path="url(#cpol)"><g mask="url(#mkol)"><rect x="250" y="340" width="420" height="300" filter="url(#fol)"/></g></g>
<polygon points="279.8,407.7 280.1,409.5 280.9,411.2 281.7,412.8 282.7,414.3 282.8,417.5 284.3,419.2 283.3,420.7 283.7,423.0 282.8,424.9 281.7,426.8 281.6,428.2 281.3,431.2 280.8,432.9 280.5,434.5 279.9,436.0 279.1,438.8 277.9,440.8 277.0,442.1 277.2,444.6 276.3,447.1 275.4,448.5 275.2,451.0 274.3,452.7 273.9,454.8 273.5,456.1 273.0,457.4 271.5,459.9 269.2,460.5 268.6,461.9 266.3,462.7 264.4,463.8 262.6,465.0 261.1,467.0 260.1,468.8 261.5,470.6 262.9,472.0 264.4,473.3 265.2,473.9 267.1,474.1 269.1,475.8 270.9,475.9 272.3,476.0 274.2,477.2 275.4,477.7 276.9,477.6 279.5,479.4 280.2,479.7 282.4,479.3 284.3,480.3 285.6,479.7 288.0,477.8 289.2,476.8 290.6,476.5 291.6,474.3 292.4,473.3 292.6,471.4 293.2,468.8 294.0,466.4 295.4,464.6 295.8,463.3 297.4,461.2 298.3,459.9 299.2,459.4 301.1,458.5 303.4,456.7 304.3,455.8 305.9,454.8 307.7,453.4 309.2,451.8 311.3,450.1 312.3,448.5 314.0,448.0 315.5,446.7 318.3,446.2 319.5,444.7 321.2,444.6 322.7,443.8 323.7,442.9 326.2,441.1 327.6,440.8 329.9,441.6 332.1,442.3 333.9,443.4 335.9,444.6 336.6,444.5 339.0,445.9 340.9,445.7 342.1,444.2 344.1,443.4 345.5,441.8 346.7,440.8 348.3,438.9 350.1,437.7 352.0,436.0 352.7,434.2 354.4,432.1 355.1,431.5 355.7,429.2 357.0,428.0 359.8,427.6 361.2,427.9 364.0,428.0 365.6,428.9 366.4,430.8 368.5,432.4 369.8,433.5 370.4,435.7 372.0,437.0 374.1,438.3 374.8,439.3 376.8,440.8 378.8,443.1 380.0,444.0 381.6,444.2 384.4,445.2 386.4,445.3 387.5,445.7 390.4,446.2 392.0,447.0 393.2,448.1 394.8,449.3 396.9,450.2 397.1,452.5 399.8,453.8 400.6,455.0 402.7,455.2 403.9,457.2 405.0,458.0 406.8,459.3 407.8,460.3 409.3,461.3 411.4,462.8 413.3,463.8 415.0,466.0 416.0,467.0 417.4,469.2 418.1,470.4 417.7,472.3 418.7,473.4 420.1,475.4 420.5,477.6 421.6,478.4 421.9,480.8 423.0,482.0 423.8,484.1 424.5,485.1 425.7,487.7 426.0,489.4 428.0,491.2 428.7,491.8 429.3,494.8 430.0,496.0 431.2,495.8 433.4,496.3 435.5,496.3 437.9,495.8 438.8,496.1 440.7,496.1 443.8,497.4 445.0,497.0 446.3,496.6 448.5,495.9 450.4,495.9 452.5,495.1 453.9,494.6 455.6,494.5 458.0,494.0 459.8,495.3 460.4,496.5 462.3,498.6 464.0,500.0 464.8,501.6 465.2,503.8 465.1,505.2 465.6,507.5 466.0,509.0 466.9,511.0 467.9,512.1 469.1,514.5 470.0,516.0 471.0,516.9 473.1,518.5 475.4,518.8 477.0,520.4 478.0,521.0 479.3,521.8 480.8,523.1 483.2,524.0 485.1,524.6 486.7,525.3 488.0,526.0 489.0,527.4 490.5,528.1 493.2,529.2 494.4,531.1 495.7,531.0 498.7,531.6 499.3,533.0 501.3,533.4 504.0,533.9 505.6,533.9 507.6,535.8 508.8,536.9 509.7,539.4 511.1,537.7 512.1,535.4 513.2,534.8 513.9,532.5 515.3,530.9 518.0,529.7 519.1,528.1 520.0,525.6 516.7,524.2 514.5,523.3 512.6,523.4 511.1,522.8 510.1,521.3 508.2,519.9 506.8,518.5 505.6,517.2 503.1,515.8 502.5,514.3 500.0,513.0 499.2,511.1 498.0,510.5 496.9,508.7 495.5,507.4 495.0,505.3 492.8,504.7 492.8,502.9 491.0,501.8 490.0,500.0 488.3,498.3 487.1,497.4 486.0,495.5 485.3,495.1 483.5,493.4 482.4,492.2 481.4,490.0 479.6,488.3 478.7,487.5 477.0,486.1 476.0,485.3 474.5,484.2 473.7,482.3 472.5,481.2 471.7,479.5 470.0,478.0 468.5,477.2 467.6,475.7 466.0,475.4 464.2,473.2 462.5,472.8 461.7,472.1 460.5,470.0 458.1,468.9 456.7,468.4 456.2,467.6 453.9,466.5 452.6,464.7 451.7,463.2 449.4,463.1 448.3,461.4 447.3,460.7 445.0,459.1 444.2,458.3 442.5,457.3 442.1,455.9 440.0,455.0 438.8,453.2 437.1,452.6 435.5,451.6 435.4,449.2 434.1,448.3 432.6,447.5 430.6,446.1 429.8,445.0 427.9,443.6 427.6,442.2 425.7,440.1 424.3,439.1 423.3,438.3 421.8,436.3 420.6,435.6 418.7,434.7 418.0,432.3 417.1,431.0 415.0,430.5 414.0,429.0 412.8,427.5 411.0,425.9 410.0,425.0 407.9,424.3 407.4,423.1 405.8,421.8 403.7,420.8 403.0,419.4 401.0,418.6 399.9,417.8 397.8,416.9 396.6,416.4 394.8,415.5 393.0,413.7 391.4,412.5 390.9,412.3 388.6,410.6 387.4,410.3 386.4,409.3 384.6,407.5 382.9,406.6 381.5,406.1 380.0,405.0 378.0,403.7 377.3,402.3 375.8,402.5 374.5,400.8 372.4,400.1 371.0,399.7 369.5,397.7 368.2,397.0 366.3,396.3 363.9,395.4 363.3,394.0 361.6,392.9 360.0,392.0 357.7,392.4 355.6,392.8 354.6,393.0 352.6,394.1 351.2,393.4 349.2,394.4 346.2,394.4 345.0,395.0 343.2,395.8 342.2,398.5 340.5,399.8 339.6,400.2 338.4,402.3 337.0,403.9 335.0,405.0 333.5,404.5 331.7,405.1 330.0,404.1 328.0,403.9 325.2,403.0 323.4,403.0 321.6,403.2 320.5,402.9 318.3,402.8 316.3,402.3 315.1,402.0 312.4,402.4 311.4,401.4 309.0,401.4 307.5,400.7 304.8,400.4 304.1,400.0 301.8,399.8 300.0,400.0 297.8,399.7 296.3,399.9 293.9,400.1 292.3,400.8 290.4,400.3 289.1,401.1 287.7,400.8 285.5,401.5 283.1,402.5 282.0,402.0 280.9,403.3 280.5,405.3" fill="none" stroke="#111" stroke-width="1.5" stroke-linejoin="round"/>
<polygon points="358.5,421.0 360.7,422.6 360.9,422.4 363.1,423.9 365.0,425.4 366.2,425.9 367.6,427.5 368.9,428.5 370.6,429.6 371.9,431.4 373.6,433.1 374.3,436.1 375.0,437.8 374.7,440.1 375.9,441.2 379.4,440.7 381.6,440.2 383.4,439.6 386.3,440.1 388.0,441.0 389.8,442.4 391.2,444.5 392.9,445.6 394.4,447.0 395.4,447.5 396.9,448.8 398.6,451.2 400.2,451.2 401.3,452.8 403.3,454.4 404.5,455.7 406.0,456.7 407.1,457.5 409.2,458.7 411.8,458.6 413.6,459.6 414.5,461.8 415.2,463.0 416.4,464.4 417.5,466.7 418.7,468.3 419.6,470.1 421.0,471.3 422.4,473.3 422.8,475.9 423.9,477.4 424.5,479.4 424.9,481.1 426.3,482.8 426.8,485.2 427.8,486.8 428.2,488.8 428.0,491.0 430.6,491.9 431.9,492.2 433.8,493.2 435.8,494.2 437.5,495.0 439.3,494.9 441.7,495.7 443.1,495.1 444.6,492.7 446.3,492.3 447.2,490.8 448.5,488.7 448.6,487.4 450.9,486.6 452.7,486.8 454.0,487.5 455.8,486.9 458.3,486.7 460.2,487.7 461.1,489.4 462.1,492.0 463.9,493.6 465.2,495.8 466.0,497.1 468.1,499.2 469.0,501.5 470.8,503.3 469.7,505.8 469.2,507.4 469.4,508.9 469.7,510.4 471.7,512.1 472.2,514.4 473.6,516.1 475.8,516.6 477.8,518.6 480.3,518.6 480.8,519.3 483.3,520.0 485.3,521.3 486.5,521.6 488.9,522.8 489.6,524.6 492.0,526.8 493.0,528.3 492.2,530.1 490.3,531.1 490.1,533.1 488.9,534.2 488.4,536.1 487.5,538.1 485.5,539.4 485.2,540.3 483.3,542.2 483.8,544.2 484.0,545.9 485.0,548.2 484.7,550.6 485.3,552.3 485.0,554.3 486.1,556.1 484.9,557.6 484.7,560.3 482.0,560.5 480.6,561.7 478.2,561.0 476.9,560.5 475.0,558.9 473.7,558.7 470.9,557.0 469.4,556.1 467.3,555.2 466.1,554.4 464.5,552.6 462.5,551.9 460.7,550.6 458.4,548.5 457.2,547.2 455.6,546.4 454.0,544.6 451.3,543.2 450.0,542.2 447.8,540.4 446.3,539.4 444.4,538.1 443.0,536.6 441.8,535.3 441.7,533.4 439.9,531.4 438.9,529.7 437.6,527.7 436.0,527.0 434.3,525.0 433.3,524.2 432.3,522.3 430.6,521.3 429.3,518.7 427.8,517.2 427.1,515.6 424.3,514.7 423.0,512.8 422.2,511.7 421.3,510.1 418.7,507.9 418.0,506.1 416.5,504.7 414.9,503.5 413.9,502.0 411.4,500.3 410.0,499.8 408.3,497.8 406.0,497.1 404.8,495.6 402.8,494.2 401.6,492.5 400.2,491.0 399.1,489.4 396.8,487.6 395.3,487.1 394.4,485.2 392.7,485.5 390.8,483.8 388.6,484.1 387.1,482.7 385.1,480.6 384.3,479.1 382.6,477.5 381.7,476.0 382.1,473.7 381.7,472.1 381.7,470.2 381.2,469.1 380.0,467.6 378.2,465.6 377.3,463.5 377.0,461.8 376.4,460.6 375.9,458.6 377.1,456.7 377.5,454.0 377.4,453.2 378.2,450.5 376.9,448.5 376.1,446.1 375.9,444.7 376.1,447.3 375.3,448.0 374.7,450.5 372.9,451.3 371.9,453.1 370.1,454.0 368.5,455.2 366.5,456.4 365.5,457.5 364.4,457.4 361.4,456.6 360.6,455.8 358.5,455.7 357.5,454.7 355.7,453.6 353.9,452.8 353.4,450.9 351.6,448.2 350.5,446.3 349.2,444.6 348.2,444.4 346.9,442.4 345.8,440.1 346.8,439.0 348.7,437.7 350.4,437.3 351.6,435.5 353.4,433.9 355.3,432.1 356.2,430.8 356.9,429.1 357.4,427.4 357.4,425.0 357.6,423.2" fill="#78fde0"/>
<g clip-path="url(#cpcy)"><g mask="url(#mkcy)"><rect x="250" y="340" width="420" height="300" filter="url(#fcy)"/></g></g>
<polygon points="358.5,421.0 360.7,422.6 360.9,422.4 363.1,423.9 365.0,425.4 366.2,425.9 367.6,427.5 368.9,428.5 370.6,429.6 371.9,431.4 373.6,433.1 374.3,436.1 375.0,437.8 374.7,440.1 375.9,441.2 379.4,440.7 381.6,440.2 383.4,439.6 386.3,440.1 388.0,441.0 389.8,442.4 391.2,444.5 392.9,445.6 394.4,447.0 395.4,447.5 396.9,448.8 398.6,451.2 400.2,451.2 401.3,452.8 403.3,454.4 404.5,455.7 406.0,456.7 407.1,457.5 409.2,458.7 411.8,458.6 413.6,459.6 414.5,461.8 415.2,463.0 416.4,464.4 417.5,466.7 418.7,468.3 419.6,470.1 421.0,471.3 422.4,473.3 422.8,475.9 423.9,477.4 424.5,479.4 424.9,481.1 426.3,482.8 426.8,485.2 427.8,486.8 428.2,488.8 428.0,491.0 430.6,491.9 431.9,492.2 433.8,493.2 435.8,494.2 437.5,495.0 439.3,494.9 441.7,495.7 443.1,495.1 444.6,492.7 446.3,492.3 447.2,490.8 448.5,488.7 448.6,487.4 450.9,486.6 452.7,486.8 454.0,487.5 455.8,486.9 458.3,486.7 460.2,487.7 461.1,489.4 462.1,492.0 463.9,493.6 465.2,495.8 466.0,497.1 468.1,499.2 469.0,501.5 470.8,503.3 469.7,505.8 469.2,507.4 469.4,508.9 469.7,510.4 471.7,512.1 472.2,514.4 473.6,516.1 475.8,516.6 477.8,518.6 480.3,518.6 480.8,519.3 483.3,520.0 485.3,521.3 486.5,521.6 488.9,522.8 489.6,524.6 492.0,526.8 493.0,528.3 492.2,530.1 490.3,531.1 490.1,533.1 488.9,534.2 488.4,536.1 487.5,538.1 485.5,539.4 485.2,540.3 483.3,542.2 483.8,544.2 484.0,545.9 485.0,548.2 484.7,550.6 485.3,552.3 485.0,554.3 486.1,556.1 484.9,557.6 484.7,560.3 482.0,560.5 480.6,561.7 478.2,561.0 476.9,560.5 475.0,558.9 473.7,558.7 470.9,557.0 469.4,556.1 467.3,555.2 466.1,554.4 464.5,552.6 462.5,551.9 460.7,550.6 458.4,548.5 457.2,547.2 455.6,546.4 454.0,544.6 451.3,543.2 450.0,542.2 447.8,540.4 446.3,539.4 444.4,538.1 443.0,536.6 441.8,535.3 441.7,533.4 439.9,531.4 438.9,529.7 437.6,527.7 436.0,527.0 434.3,525.0 433.3,524.2 432.3,522.3 430.6,521.3 429.3,518.7 427.8,517.2 427.1,515.6 424.3,514.7 423.0,512.8 422.2,511.7 421.3,510.1 418.7,507.9 418.0,506.1 416.5,504.7 414.9,503.5 413.9,502.0 411.4,500.3 410.0,499.8 408.3,497.8 406.0,497.1 404.8,495.6 402.8,494.2 401.6,492.5 400.2,491.0 399.1,489.4 396.8,487.6 395.3,487.1 394.4,485.2 392.7,485.5 390.8,483.8 388.6,484.1 387.1,482.7 385.1,480.6 384.3,479.1 382.6,477.5 381.7,476.0 382.1,473.7 381.7,472.1 381.7,470.2 381.2,469.1 380.0,467.6 378.2,465.6 377.3,463.5 377.0,461.8 376.4,460.6 375.9,458.6 377.1,456.7 377.5,454.0 377.4,453.2 378.2,450.5 376.9,448.5 376.1,446.1 375.9,444.7 376.1,447.3 375.3,448.0 374.7,450.5 372.9,451.3 371.9,453.1 370.1,454.0 368.5,455.2 366.5,456.4 365.5,457.5 364.4,457.4 361.4,456.6 360.6,455.8 358.5,455.7 357.5,454.7 355.7,453.6 353.9,452.8 353.4,450.9 351.6,448.2 350.5,446.3 349.2,444.6 348.2,444.4 346.9,442.4 345.8,440.1 346.8,439.0 348.7,437.7 350.4,437.3 351.6,435.5 353.4,433.9 355.3,432.1 356.2,430.8 356.9,429.1 357.4,427.4 357.4,425.0 357.6,423.2" fill="none" stroke="#111" stroke-width="1.5" stroke-linejoin="round"/>
<polyline points="430.5,494.0 427.9,495.9 426.0,496.5 423.6,498.1 422.2,499.2 420.2,500.9 419.4,503.3 418.0,506.1" fill="none" stroke="#1a1a1a" stroke-width="1.4"/>
<polygon points="272.8,394.8 272.9,392.4 273.6,390.6 273.5,389.1 274.6,387.4 277.0,386.7 278.7,384.7 280.2,383.6 282.0,382.8 283.2,381.1 284.9,381.0 287.3,379.7 288.5,378.1 289.8,376.0 290.1,375.0 291.6,373.6 292.7,370.9 293.1,369.8 294.8,369.1 296.2,367.5 297.8,367.0 299.6,366.2 302.1,367.2 303.4,366.2 305.7,366.4 307.0,366.1 309.7,366.3 311.3,365.4 313.5,365.2 315.9,365.6 318.1,366.1 319.8,365.5 322.9,364.9 324.6,365.2 322.6,363.5 321.9,361.5 319.7,359.7 318.1,357.8 320.4,357.6 322.8,357.8 325.7,357.7 327.0,358.0 329.3,358.7 331.3,358.1 332.8,358.4 334.8,357.8 335.1,359.9 336.4,361.2 335.8,363.4 337.3,365.9 337.1,367.5 337.5,369.7 338.5,371.7 336.6,373.5 336.6,375.4 334.8,376.3 334.2,379.1 332.3,380.3 332.0,382.8 332.9,385.0 332.4,387.1 332.9,388.8 333.0,390.2 333.8,391.4 335.1,393.0 336.1,395.8 337.2,396.2 338.5,398.5 338.8,399.9 340.8,402.0 341.3,404.1 339.6,405.8 338.5,408.7 337.3,410.4 334.8,412.4 332.5,410.9 330.5,410.1 329.5,409.1 327.4,408.7 324.9,408.4 323.3,408.8 321.3,407.8 320.4,407.4 318.8,407.2 316.3,406.9 314.1,406.0 311.9,405.3 310.4,405.2 309.3,403.9 307.0,403.1 304.0,402.8 302.4,403.1 300.5,404.0 299.0,406.2 297.8,406.9 295.4,406.3 294.7,407.0 292.9,406.8 290.9,407.1 288.5,406.9 287.1,407.7 284.8,407.2 282.5,408.8 281.1,408.7 279.8,408.1 277.2,406.5 275.6,405.0 274.6,403.3 272.8,401.3 273.2,399.2 273.0,397.2" fill="#e89a02"/>
<g clip-path="url(#cpor)"><g mask="url(#mkor)"><rect x="250" y="340" width="420" height="300" filter="url(#for)"/></g></g>
<polygon points="272.8,394.8 272.9,392.4 273.6,390.6 273.5,389.1 274.6,387.4 277.0,386.7 278.7,384.7 280.2,383.6 282.0,382.8 283.2,381.1 284.9,381.0 287.3,379.7 288.5,378.1 289.8,376.0 290.1,375.0 291.6,373.6 292.7,370.9 293.1,369.8 294.8,369.1 296.2,367.5 297.8,367.0 299.6,366.2 302.1,367.2 303.4,366.2 305.7,366.4 307.0,366.1 309.7,366.3 311.3,365.4 313.5,365.2 315.9,365.6 318.1,366.1 319.8,365.5 322.9,364.9 324.6,365.2 322.6,363.5 321.9,361.5 319.7,359.7 318.1,357.8 320.4,357.6 322.8,357.8 325.7,357.7 327.0,358.0 329.3,358.7 331.3,358.1 332.8,358.4 334.8,357.8 335.1,359.9 336.4,361.2 335.8,363.4 337.3,365.9 337.1,367.5 337.5,369.7 338.5,371.7 336.6,373.5 336.6,375.4 334.8,376.3 334.2,379.1 332.3,380.3 332.0,382.8 332.9,385.0 332.4,387.1 332.9,388.8 333.0,390.2 333.8,391.4 335.1,393.0 336.1,395.8 337.2,396.2 338.5,398.5 338.8,399.9 340.8,402.0 341.3,404.1 339.6,405.8 338.5,408.7 337.3,410.4 334.8,412.4 332.5,410.9 330.5,410.1 329.5,409.1 327.4,408.7 324.9,408.4 323.3,408.8 321.3,407.8 320.4,407.4 318.8,407.2 316.3,406.9 314.1,406.0 311.9,405.3 310.4,405.2 309.3,403.9 307.0,403.1 304.0,402.8 302.4,403.1 300.5,404.0 299.0,406.2 297.8,406.9 295.4,406.3 294.7,407.0 292.9,406.8 290.9,407.1 288.5,406.9 287.1,407.7 284.8,407.2 282.5,408.8 281.1,408.7 279.8,408.1 277.2,406.5 275.6,405.0 274.6,403.3 272.8,401.3 273.2,399.2 273.0,397.2" fill="none" stroke="#111" stroke-width="1.5" stroke-linejoin="round"/>
<polygon points="334.5,358.5 336.4,357.9 338.0,356.7 340.1,356.5 341.7,355.6 342.4,354.1 345.3,353.5 346.4,352.5 348.9,351.4 350.2,351.0 352.3,350.9 353.5,349.9 356.1,349.7 357.7,351.2 360.2,351.1 361.7,352.5 364.0,352.0 365.6,352.0 366.6,353.0 368.7,352.1 371.6,353.0 372.8,352.5 374.6,353.8 377.0,354.1 378.6,355.2 381.1,355.3 382.1,358.0 383.1,359.2 383.0,361.1 383.9,363.6 385.2,364.4 387.3,366.5 389.4,367.8 390.1,369.8 392.0,371.0 394.0,372.9 395.0,374.7 394.4,376.7 394.6,378.2 394.6,380.3 393.6,383.0 394.3,385.4 393.7,387.2 394.6,388.8 395.2,390.6 395.9,391.8 398.0,394.3 396.1,397.0 397.1,399.0 398.9,399.8 400.3,399.4 403.2,398.9 404.4,397.5 406.0,398.4 408.1,399.8 410.0,401.1 411.9,401.7 411.7,403.9 412.9,405.9 412.8,407.2 414.0,408.1 416.5,407.7 417.8,406.8 420.2,406.3 422.2,406.4 423.7,405.9 425.8,404.6 427.6,404.4 427.8,406.3 428.5,409.1 429.3,410.0 431.6,412.5 432.2,412.6 434.1,414.6 437.1,415.6 438.7,416.5 440.4,417.1 442.6,418.8 444.3,419.3 446.1,419.9 447.4,421.2 449.2,421.3 451.7,422.0 454.0,422.0 455.7,423.6 457.4,423.8 459.1,423.9 460.4,423.9 462.4,424.5 464.5,424.1 467.4,424.7 468.6,424.3 471.2,423.7 472.4,423.6 474.3,422.4 476.1,421.7 477.9,422.3 480.0,421.1 482.7,420.9 484.0,420.0 485.5,419.5 488.1,419.4 490.5,420.7 492.0,421.5 494.6,422.1 496.2,422.7 498.0,424.1 499.2,425.1 501.0,425.9 502.3,426.7 504.3,427.5 502.6,429.0 500.2,430.0 499.6,432.5 499.9,433.9 499.4,435.7 499.9,437.4 501.5,439.1 503.0,440.9 504.3,442.1 503.7,445.0 502.6,447.0 504.0,448.8 506.2,450.7 507.5,451.9 508.9,453.2 511.3,453.8 513.0,454.9 514.0,455.1 515.7,456.8 516.8,458.8 518.9,460.0 521.1,461.2 522.4,462.7 524.0,463.1 525.3,464.8 527.3,466.1 528.8,467.1 530.3,468.9 531.8,469.7 534.0,470.4 535.2,470.0 537.8,471.1 539.9,471.3 541.7,472.1 544.4,471.7 546.4,472.9 547.2,474.7 547.4,476.7 548.8,479.4 546.7,480.0 544.6,480.9 543.2,482.6 541.5,484.1 539.9,485.9 538.1,485.7 535.7,485.8 533.4,484.8 531.8,484.5 530.2,484.3 527.7,485.1 526.1,484.3 524.5,484.7 522.5,485.4 520.5,485.9 518.4,487.1 516.6,486.9 514.0,487.5 512.5,488.0 509.9,487.6 508.3,488.5 506.9,489.4 504.3,489.1 502.4,488.9 500.8,488.4 497.7,489.2 496.2,489.1 495.5,491.0 494.5,494.0 496.0,495.8 496.9,496.5 498.0,497.6 500.4,499.0 501.0,500.5 502.9,502.4 503.7,502.8 505.6,504.4 506.1,505.4 507.5,507.0 507.7,509.0 506.5,511.0 504.4,511.3 502.8,511.7 500.9,510.5 499.9,508.6 499.0,508.0 497.2,506.1 494.8,505.1 493.4,504.6 492.4,502.6 490.3,501.9 488.2,500.0 487.5,498.9 485.2,497.7 483.3,496.4 482.4,494.9 481.4,492.5 480.4,491.1 478.9,489.5 477.8,488.1 476.1,487.0 475.0,485.6 473.9,484.7 471.6,483.1 470.7,482.8 469.4,481.1 468.1,480.7 465.0,480.6 463.7,479.8 462.3,479.4 460.1,479.3 458.3,478.3 456.6,477.1 455.6,475.8 453.3,475.6 451.3,474.6 450.6,473.0 448.5,472.4 447.2,471.0 445.9,469.8 443.5,469.7 441.7,468.8 439.4,468.5 438.5,467.1 436.2,467.0 434.2,466.0 433.4,464.4 430.7,463.1 430.4,462.1 428.1,460.0 427.2,457.9 426.2,456.6 424.7,456.1 423.3,454.0 422.8,451.6 421.5,450.7 421.0,448.2 419.1,447.2 418.0,445.4 416.8,444.1 415.2,443.6 413.1,442.5 411.5,441.0 410.6,440.7 408.3,440.1 407.0,439.3 405.9,437.3 403.9,436.4 402.5,435.5 404.0,434.1 405.8,432.6 406.6,431.4 403.7,430.3 401.1,430.9 399.2,431.0 397.6,431.7 395.6,431.4 393.3,431.6 390.9,431.4 389.4,429.7 388.3,428.3 387.5,426.2 386.4,423.8 384.8,422.2 384.0,420.4 383.2,418.5 382.0,417.7 380.0,416.3 379.4,414.6 377.4,412.9 376.6,411.9 375.6,411.1 373.6,410.0 372.1,409.1 370.4,407.7 369.2,405.6 369.1,405.0 366.9,402.9 366.6,402.3 364.7,400.8 363.4,399.5 361.4,399.0 359.1,398.2 357.9,397.5 355.9,396.4 354.7,396.4 353.0,395.3 350.8,394.6 350.4,396.5 349.1,398.4 348.0,400.1 346.8,401.2 344.4,401.9 343.1,403.1 342.0,405.0 341.7,403.3 340.6,401.1 339.3,400.7 338.5,398.5 337.6,396.7 336.3,394.6 334.7,393.0 333.9,391.7 333.0,390.2 333.3,387.9 332.2,386.2 331.8,384.4 332.0,382.8 332.6,380.6 333.2,379.1 334.8,376.3 335.8,375.4 337.5,373.5 338.5,371.7 337.9,370.4 336.8,368.1 336.4,366.1 336.4,363.5 335.5,362.0 334.6,359.6" fill="#fe7e7e"/>
<g clip-path="url(#cppk)"><g mask="url(#mkpk)"><rect x="250" y="340" width="420" height="300" filter="url(#fpk)"/></g></g>
<polygon points="334.5,358.5 336.4,357.9 338.0,356.7 340.1,356.5 341.7,355.6 342.4,354.1 345.3,353.5 346.4,352.5 348.9,351.4 350.2,351.0 352.3,350.9 353.5,349.9 356.1,349.7 357.7,351.2 360.2,351.1 361.7,352.5 364.0,352.0 365.6,352.0 366.6,353.0 368.7,352.1 371.6,353.0 372.8,352.5 374.6,353.8 377.0,354.1 378.6,355.2 381.1,355.3 382.1,358.0 383.1,359.2 383.0,361.1 383.9,363.6 385.2,364.4 387.3,366.5 389.4,367.8 390.1,369.8 392.0,371.0 394.0,372.9 395.0,374.7 394.4,376.7 394.6,378.2 394.6,380.3 393.6,383.0 394.3,385.4 393.7,387.2 394.6,388.8 395.2,390.6 395.9,391.8 398.0,394.3 396.1,397.0 397.1,399.0 398.9,399.8 400.3,399.4 403.2,398.9 404.4,397.5 406.0,398.4 408.1,399.8 410.0,401.1 411.9,401.7 411.7,403.9 412.9,405.9 412.8,407.2 414.0,408.1 416.5,407.7 417.8,406.8 420.2,406.3 422.2,406.4 423.7,405.9 425.8,404.6 427.6,404.4 427.8,406.3 428.5,409.1 429.3,410.0 431.6,412.5 432.2,412.6 434.1,414.6 437.1,415.6 438.7,416.5 440.4,417.1 442.6,418.8 444.3,419.3 446.1,419.9 447.4,421.2 449.2,421.3 451.7,422.0 454.0,422.0 455.7,423.6 457.4,423.8 459.1,423.9 460.4,423.9 462.4,424.5 464.5,424.1 467.4,424.7 468.6,424.3 471.2,423.7 472.4,423.6 474.3,422.4 476.1,421.7 477.9,422.3 480.0,421.1 482.7,420.9 484.0,420.0 485.5,419.5 488.1,419.4 490.5,420.7 492.0,421.5 494.6,422.1 496.2,422.7 498.0,424.1 499.2,425.1 501.0,425.9 502.3,426.7 504.3,427.5 502.6,429.0 500.2,430.0 499.6,432.5 499.9,433.9 499.4,435.7 499.9,437.4 501.5,439.1 503.0,440.9 504.3,442.1 503.7,445.0 502.6,447.0 504.0,448.8 506.2,450.7 507.5,451.9 508.9,453.2 511.3,453.8 513.0,454.9 514.0,455.1 515.7,456.8 516.8,458.8 518.9,460.0 521.1,461.2 522.4,462.7 524.0,463.1 525.3,464.8 527.3,466.1 528.8,467.1 530.3,468.9 531.8,469.7 534.0,470.4 535.2,470.0 537.8,471.1 539.9,471.3 541.7,472.1 544.4,471.7 546.4,472.9 547.2,474.7 547.4,476.7 548.8,479.4 546.7,480.0 544.6,480.9 543.2,482.6 541.5,484.1 539.9,485.9 538.1,485.7 535.7,485.8 533.4,484.8 531.8,484.5 530.2,484.3 527.7,485.1 526.1,484.3 524.5,484.7 522.5,485.4 520.5,485.9 518.4,487.1 516.6,486.9 514.0,487.5 512.5,488.0 509.9,487.6 508.3,488.5 506.9,489.4 504.3,489.1 502.4,488.9 500.8,488.4 497.7,489.2 496.2,489.1 495.5,491.0 494.5,494.0 496.0,495.8 496.9,496.5 498.0,497.6 500.4,499.0 501.0,500.5 502.9,502.4 503.7,502.8 505.6,504.4 506.1,505.4 507.5,507.0 507.7,509.0 506.5,511.0 504.4,511.3 502.8,511.7 500.9,510.5 499.9,508.6 499.0,508.0 497.2,506.1 494.8,505.1 493.4,504.6 492.4,502.6 490.3,501.9 488.2,500.0 487.5,498.9 485.2,497.7 483.3,496.4 482.4,494.9 481.4,492.5 480.4,491.1 478.9,489.5 477.8,488.1 476.1,487.0 475.0,485.6 473.9,484.7 471.6,483.1 470.7,482.8 469.4,481.1 468.1,480.7 465.0,480.6 463.7,479.8 462.3,479.4 460.1,479.3 458.3,478.3 456.6,477.1 455.6,475.8 453.3,475.6 451.3,474.6 450.6,473.0 448.5,472.4 447.2,471.0 445.9,469.8 443.5,469.7 441.7,468.8 439.4,468.5 438.5,467.1 436.2,467.0 434.2,466.0 433.4,464.4 430.7,463.1 430.4,462.1 428.1,460.0 427.2,457.9 426.2,456.6 424.7,456.1 423.3,454.0 422.8,451.6 421.5,450.7 421.0,448.2 419.1,447.2 418.0,445.4 416.8,444.1 415.2,443.6 413.1,442.5 411.5,441.0 410.6,440.7 408.3,440.1 407.0,439.3 405.9,437.3 403.9,436.4 402.5,435.5 404.0,434.1 405.8,432.6 406.6,431.4 403.7,430.3 401.1,430.9 399.2,431.0 397.6,431.7 395.6,431.4 393.3,431.6 390.9,431.4 389.4,429.7 388.3,428.3 387.5,426.2 386.4,423.8 384.8,422.2 384.0,420.4 383.2,418.5 382.0,417.7 380.0,416.3 379.4,414.6 377.4,412.9 376.6,411.9 375.6,411.1 373.6,410.0 372.1,409.1 370.4,407.7 369.2,405.6 369.1,405.0 366.9,402.9 366.6,402.3 364.7,400.8 363.4,399.5 361.4,399.0 359.1,398.2 357.9,397.5 355.9,396.4 354.7,396.4 353.0,395.3 350.8,394.6 350.4,396.5 349.1,398.4 348.0,400.1 346.8,401.2 344.4,401.9 343.1,403.1 342.0,405.0 341.7,403.3 340.6,401.1 339.3,400.7 338.5,398.5 337.6,396.7 336.3,394.6 334.7,393.0 333.9,391.7 333.0,390.2 333.3,387.9 332.2,386.2 331.8,384.4 332.0,382.8 332.6,380.6 333.2,379.1 334.8,376.3 335.8,375.4 337.5,373.5 338.5,371.7 337.9,370.4 336.8,368.1 336.4,366.1 336.4,363.5 335.5,362.0 334.6,359.6" fill="none" stroke="#111" stroke-width="1.5" stroke-linejoin="round"/>
<polyline points="364.7,400.8 366.4,399.7 367.7,399.4 369.3,398.0 371.7,397.0 374.3,396.3 375.9,396.9 377.3,396.5 380.0,396.5 382.0,397.3 383.6,397.7 385.0,399.0 386.5,398.0 388.7,398.0 387.8,396.1 389.7,396.2 391.5,395.2 393.9,396.5 396.1,397.0" fill="none" stroke="#1a1a1a" stroke-width="1.4"/>
<polyline points="406.6,431.4 405.9,428.9 405.4,426.7 406.7,426.3 409.1,424.8 410.3,424.4 412.8,423.9 413.8,421.5 413.7,420.2 415.6,419.4 417.4,418.3 418.6,417.5 421.4,417.0 423.0,416.5 425.7,418.3 427.9,417.8 429.1,417.8 431.3,418.3 433.2,418.0 435.0,416.5 437.0,416.9 438.7,416.5" fill="none" stroke="#1a1a1a" stroke-width="1.4"/>
<polyline points="291.3,391.1 300.0,390.0 307.0,389.3 313.0,390.5 320.0,390.2 327.4,395.7 333.0,400.0 338.5,405.0" fill="none" stroke="#1b90f0" stroke-width="1.25" stroke-linejoin="round" stroke-linecap="round"/>
<polyline points="320.0,390.2 323.7,384.0 323.7,378.1" fill="none" stroke="#1b90f0" stroke-width="1.25" stroke-linejoin="round" stroke-linecap="round"/>
<polyline points="365.8,363.6 361.7,365.0 360.3,374.7 364.4,376.1 372.8,376.1 375.6,377.5" fill="none" stroke="#1b90f0" stroke-width="1.25" stroke-linejoin="round" stroke-linecap="round"/>
<polyline points="364.4,376.1 363.0,380.3 361.7,385.8 352.0,388.6 343.6,390.0 340.8,392.8 340.8,399.7 342.2,405.3" fill="none" stroke="#1b90f0" stroke-width="1.25" stroke-linejoin="round" stroke-linecap="round"/>
<polyline points="386.9,414.6 390.6,413.7 393.3,415.6 397.0,415.6 403.5,415.6" fill="none" stroke="#1b90f0" stroke-width="1.25" stroke-linejoin="round" stroke-linecap="round"/>
<polyline points="386.9,414.6 386.9,416.5 388.7,422.0 393.3,426.7 394.3,430.4" fill="none" stroke="#1b90f0" stroke-width="1.25" stroke-linejoin="round" stroke-linecap="round"/>
<polyline points="410.6,440.7 415.6,437.8 422.0,436.9 427.6,438.7" fill="none" stroke="#1b90f0" stroke-width="1.25" stroke-linejoin="round" stroke-linecap="round"/>
<polyline points="421.6,437.3 426.5,443.8 436.2,451.9 445.9,456.7 457.3,461.6 465.4,466.4 475.1,471.3 484.8,477.8 492.9,485.9 496.2,481.0 505.9,479.4 520.5,478.6" fill="none" stroke="#1b90f0" stroke-width="1.25" stroke-linejoin="round" stroke-linecap="round"/>
<polyline points="452.4,437.3 458.9,448.6 467.0,464.8" fill="none" stroke="#1b90f0" stroke-width="1.25" stroke-linejoin="round" stroke-linecap="round"/>
<polyline points="475.1,430.8 473.5,438.9 481.6,447.0 489.7,453.5 494.5,468.1 497.8,476.2 496.2,481.0" fill="none" stroke="#1b90f0" stroke-width="1.25" stroke-linejoin="round" stroke-linecap="round"/>
<polyline points="342.5,405.0 346.7,406.5 351.8,410.3 354.3,420.5 356.2,423.3" fill="none" stroke="#1b90f0" stroke-width="1.25" stroke-linejoin="round" stroke-linecap="round"/>
<polyline points="356.2,423.3 344.1,428.1 331.4,426.8 318.7,423.0 311.0,422.4 300.8,424.3 298.3,428.1 298.9,434.5 291.9,440.8 286.8,445.9 285.6,453.6 283.0,471.4 284.3,480.3" fill="none" stroke="#1b90f0" stroke-width="1.25" stroke-linejoin="round" stroke-linecap="round"/>
<polyline points="342.5,405.0 346.7,406.4 355.0,409.2 357.8,416.1 366.1,418.9 375.8,420.3 382.8,423.0 388.3,428.6 392.5,432.8 399.4,432.8 405.0,435.6 410.6,441.1 413.3,446.7 414.7,455.0 414.3,460.0 421.7,466.1 430.0,468.9 439.4,476.2 452.4,484.3 458.3,486.7 466.7,489.4 475.0,497.8 483.3,506.1 491.7,514.4 500.0,522.8 511.1,531.1 520.0,533.9" fill="none" stroke="#1b90f0" stroke-width="1.25" stroke-linejoin="round" stroke-linecap="round"/>
<polyline points="513.3,532.0 523.8,530.0 542.5,546.7 559.2,563.3 569.6,577.9 577.9,590.4 584.2,600.8" fill="none" stroke="#1b90f0" stroke-width="1.25" stroke-linejoin="round" stroke-linecap="round"/>
<polyline points="559.2,563.3 573.8,563.3 588.3,559.2 600.8,559.2 613.3,565.4 621.7,577.9 623.8,584.2 617.5,592.5 619.6,602.9" fill="none" stroke="#1b90f0" stroke-width="1.25" stroke-linejoin="round" stroke-linecap="round"/>
<polyline points="600.8,559.2 602.9,571.7" fill="none" stroke="#1b90f0" stroke-width="1.25" stroke-linejoin="round" stroke-linecap="round"/>
<polyline points="515.7,534.0 524.8,546.7" fill="none" stroke="#1b90f0" stroke-width="1.25" stroke-linejoin="round" stroke-linecap="round"/>
<polyline points="359.7,423.9 362.0,429.7 362.0,435.5" fill="none" stroke="#1b90f0" stroke-width="1.25" stroke-linejoin="round" stroke-linecap="round"/>
<polyline points="414.3,460.0 411.8,463.2 409.4,466.7 404.8,467.9 399.0,464.4" fill="none" stroke="#1b90f0" stroke-width="1.25" stroke-linejoin="round" stroke-linecap="round"/>
<polyline points="411.8,463.2 411.8,470.2 408.3,476.0 406.0,484.1" fill="none" stroke="#1b90f0" stroke-width="1.25" stroke-linejoin="round" stroke-linecap="round"/>
<polyline points="458.3,486.7 455.6,488.0 454.2,497.8 441.7,502.0 441.7,507.5 445.8,513.0 443.0,520.0 445.8,527.0 452.8,529.7 458.3,527.0 463.9,529.7 469.4,539.4" fill="none" stroke="#1b90f0" stroke-width="1.25" stroke-linejoin="round" stroke-linecap="round"/>
<polyline points="463.9,529.7 466.7,525.6 472.2,531.1" fill="none" stroke="#1b90f0" stroke-width="1.25" stroke-linejoin="round" stroke-linecap="round"/>
<polygon points="341.8,399.7 337.3,407.4 346.3,407.4" fill="#f00000"/>
<polygon points="344.2,399.4 340.2,406.2 348.2,406.2" fill="#f00000"/>
<polygon points="356.2,419.1 352.1,426.1 360.3,426.1" fill="#f00000"/>
<polygon points="390.9,427.8 386.8,434.8 395.0,434.8" fill="#f00000"/>
<polygon points="410.6,436.5 406.5,443.5 414.7,443.5" fill="#f00000"/>
<polygon points="284.9,448.7 280.8,455.7 289.0,455.7" fill="#f00000"/>
<circle cx="414.1" cy="459.8" r="3.3" fill="#f00000" stroke="#a00000" stroke-width="0.5"/><circle cx="414.1" cy="459.8" r="1.1" fill="#300"/>
<circle cx="458.5" cy="487.0" r="3.3" fill="#f00000" stroke="#a00000" stroke-width="0.5"/><circle cx="458.5" cy="487.0" r="1.1" fill="#300"/>
<path d="M306.8,392.0 C307.0,369.4 295.8,335.6 273.0,334.8 C252.9,335.3 241.7,305.4 240.8,288.4" fill="none" stroke="#4472c4" stroke-width="2.2"/>
<polygon points="240.5,283.4 244.0,289.4 237.7,289.8" fill="#4472c4"/>
<path d="M283.7,454.6 C286.5,482.2 263.8,508.7 236.0,510.0 C218.8,510.7 205.1,540.9 203.4,556.5" fill="none" stroke="#4472c4" stroke-width="2.2"/>
<polygon points="202.8,561.2 200.3,554.7 206.7,555.4" fill="#4472c4"/>
<line x1="373" y1="370" x2="553.9" y2="398.9" stroke="#4472c4" stroke-width="2.2"/>
<line x1="397.1" y1="406" x2="553.9" y2="398.9" stroke="#4472c4" stroke-width="2.2"/>
<line x1="507.5" y1="458.3" x2="553.9" y2="398.9" stroke="#4472c4" stroke-width="2.2"/>
<path d="M553.9,398.9 C591.7,395.7 638.6,393.3 670.4,369.6" fill="none" stroke="#4472c4" stroke-width="2.2"/>
<polygon points="674.1,364.4 672.7,371.2 667.7,367.3" fill="#4472c4"/>
<line x1="361.4" y1="448.2" x2="404.4" y2="608.5" stroke="#4472c4" stroke-width="2.2"/>
<line x1="394.4" y1="472.5" x2="404.4" y2="608.5" stroke="#4472c4" stroke-width="2.2"/>
<line x1="461.1" y1="535.3" x2="404.4" y2="608.5" stroke="#4472c4" stroke-width="2.2"/>
<path d="M404.4,608.5 C433.2,680.5 469,711 476.5,711" fill="none" stroke="#4472c4" stroke-width="2.2"/>
<polygon points="482.2,711.0 475.9,713.9 476.1,707.6" fill="#4472c4"/>
<rect x="122.60" y="247.55" width="15.00" height="10.95" fill="#74dbd0" stroke="#000" stroke-width="1.2"/>
<rect x="141.35" y="250.40" width="15.00" height="8.10" fill="#74dbd0" stroke="#000" stroke-width="1.2"/>
<rect x="160.10" y="253.59" width="15.00" height="4.91" fill="#74dbd0" stroke="#000" stroke-width="1.2"/>
<rect x="160.10" y="247.89" width="15.00" height="5.71" fill="#d8f5a9" stroke="#000" stroke-width="1.2"/>
<rect x="178.85" y="251.54" width="15.00" height="6.96" fill="#74dbd0" stroke="#000" stroke-width="1.2"/>
<rect x="178.85" y="222.67" width="15.00" height="28.87" fill="#d8f5a9" stroke="#000" stroke-width="1.2"/>
<rect x="197.60" y="241.50" width="15.00" height="17.00" fill="#74dbd0" stroke="#000" stroke-width="1.2"/>
<rect x="197.60" y="138.69" width="15.00" height="102.80" fill="#d8f5a9" stroke="#000" stroke-width="1.2"/>
<rect x="197.60" y="138.01" width="15.00" height="0.68" fill="#e7b4cc" stroke="#000" stroke-width="1.2"/>
<rect x="216.35" y="225.18" width="15.00" height="33.32" fill="#74dbd0" stroke="#000" stroke-width="1.2"/>
<rect x="216.35" y="77.08" width="15.00" height="148.10" fill="#d8f5a9" stroke="#000" stroke-width="1.2"/>
<rect x="216.35" y="66.81" width="15.00" height="10.27" fill="#e7b4cc" stroke="#000" stroke-width="1.2"/>
<rect x="235.10" y="197.23" width="15.00" height="61.27" fill="#74dbd0" stroke="#000" stroke-width="1.2"/>
<rect x="235.10" y="119.53" width="15.00" height="77.70" fill="#d8f5a9" stroke="#000" stroke-width="1.2"/>
<rect x="235.10" y="75.03" width="15.00" height="44.50" fill="#e7b4cc" stroke="#000" stroke-width="1.2"/>
<rect x="253.85" y="202.59" width="15.00" height="55.91" fill="#74dbd0" stroke="#000" stroke-width="1.2"/>
<rect x="253.85" y="184.56" width="15.00" height="18.03" fill="#d8f5a9" stroke="#000" stroke-width="1.2"/>
<rect x="253.85" y="129.68" width="15.00" height="54.88" fill="#e7b4cc" stroke="#000" stroke-width="1.2"/>
<rect x="272.60" y="222.67" width="15.00" height="35.83" fill="#74dbd0" stroke="#000" stroke-width="1.2"/>
<rect x="272.60" y="216.28" width="15.00" height="6.39" fill="#d8f5a9" stroke="#000" stroke-width="1.2"/>
<rect x="272.60" y="198.37" width="15.00" height="17.91" fill="#e7b4cc" stroke="#000" stroke-width="1.2"/>
<rect x="291.35" y="241.38" width="15.00" height="17.12" fill="#74dbd0" stroke="#000" stroke-width="1.2"/>
<rect x="291.35" y="231.91" width="15.00" height="9.47" fill="#d8f5a9" stroke="#000" stroke-width="1.2"/>
<rect x="291.35" y="231.00" width="15.00" height="0.91" fill="#e7b4cc" stroke="#000" stroke-width="1.2"/>
<rect x="310.10" y="244.35" width="15.00" height="14.15" fill="#74dbd0" stroke="#000" stroke-width="1.2"/>
<rect x="310.10" y="242.30" width="15.00" height="2.05" fill="#d8f5a9" stroke="#000" stroke-width="1.2"/>
<rect x="310.10" y="240.70" width="15.00" height="1.60" fill="#e7b4cc" stroke="#000" stroke-width="1.2"/>
<rect x="328.85" y="244.81" width="15.00" height="13.69" fill="#74dbd0" stroke="#000" stroke-width="1.2"/>
<rect x="366.60" y="257.13" width="15.00" height="1.37" fill="#e8b98f" stroke="#000" stroke-width="1.2"/>
<rect x="366.60" y="192.44" width="15.00" height="64.69" fill="#74dbd0" stroke="#000" stroke-width="1.2"/>
<rect x="366.60" y="97.05" width="15.00" height="95.39" fill="#d8f5a9" stroke="#000" stroke-width="1.2"/>
<rect x="366.60" y="66.81" width="15.00" height="30.24" fill="#e7b4cc" stroke="#000" stroke-width="1.2"/>
<rect x="120.5" y="7.5" width="268.60" height="251.00" fill="none" stroke="#111" stroke-width="1.35"/>
<line x1="118.0" y1="258.50" x2="120.5" y2="258.50" stroke="#000" stroke-width="1.2"/>
<text x="114.20" y="265.40" text-anchor="end" class="tk">0</text>
<line x1="118.0" y1="201.45" x2="120.5" y2="201.45" stroke="#000" stroke-width="1.2"/>
<text x="114.20" y="208.35" text-anchor="end" class="tk">50</text>
<line x1="118.0" y1="144.40" x2="120.5" y2="144.40" stroke="#000" stroke-width="1.2"/>
<text x="114.20" y="151.30" text-anchor="end" class="tk">100</text>
<line x1="118.0" y1="87.35" x2="120.5" y2="87.35" stroke="#000" stroke-width="1.2"/>
<text x="114.20" y="94.25" text-anchor="end" class="tk">150</text>
<line x1="118.0" y1="30.30" x2="120.5" y2="30.30" stroke="#000" stroke-width="1.2"/>
<text x="114.20" y="37.20" text-anchor="end" class="tk">200</text>
<line x1="130.10" y1="258.5" x2="130.10" y2="261.0" stroke="#000" stroke-width="1.2"/>
<text x="127.85" y="281.50" text-anchor="middle" class="xt">1</text>
<line x1="148.85" y1="258.5" x2="148.85" y2="261.0" stroke="#000" stroke-width="1.2"/>
<text x="146.60" y="281.50" text-anchor="middle" class="xt">2</text>
<line x1="167.60" y1="258.5" x2="167.60" y2="261.0" stroke="#000" stroke-width="1.2"/>
<text x="165.35" y="281.50" text-anchor="middle" class="xt">3</text>
<line x1="186.35" y1="258.5" x2="186.35" y2="261.0" stroke="#000" stroke-width="1.2"/>
<text x="184.10" y="281.50" text-anchor="middle" class="xt">4</text>
<line x1="205.10" y1="258.5" x2="205.10" y2="261.0" stroke="#000" stroke-width="1.2"/>
<text x="202.85" y="281.50" text-anchor="middle" class="xt">5</text>
<line x1="223.85" y1="258.5" x2="223.85" y2="261.0" stroke="#000" stroke-width="1.2"/>
<text x="221.60" y="281.50" text-anchor="middle" class="xt">6</text>
<line x1="242.60" y1="258.5" x2="242.60" y2="261.0" stroke="#000" stroke-width="1.2"/>
<text x="240.35" y="281.50" text-anchor="middle" class="xt">7</text>
<line x1="261.35" y1="258.5" x2="261.35" y2="261.0" stroke="#000" stroke-width="1.2"/>
<text x="259.10" y="281.50" text-anchor="middle" class="xt">8</text>
<line x1="280.10" y1="258.5" x2="280.10" y2="261.0" stroke="#000" stroke-width="1.2"/>
<text x="277.85" y="281.50" text-anchor="middle" class="xt">9</text>
<line x1="298.85" y1="258.5" x2="298.85" y2="261.0" stroke="#000" stroke-width="1.2"/>
<text x="298.55" y="281.50" text-anchor="middle" class="xt">10</text>
<line x1="317.60" y1="258.5" x2="317.60" y2="261.0" stroke="#000" stroke-width="1.2"/>
<text x="317.30" y="281.50" text-anchor="middle" class="xt">11</text>
<line x1="336.35" y1="258.5" x2="336.35" y2="261.0" stroke="#000" stroke-width="1.2"/>
<text x="336.05" y="281.50" text-anchor="middle" class="xt">12</text>
<text x="128.20" y="30.10" class="ti">(b)Hindu-Kush</text>
<text x="378.10" y="36.00" text-anchor="end" class="ti">TR:710mm</text>
<text x="128.10" y="71.10" class="gc">GC:8.3%</text>
<text x="363.90" y="89.10" text-anchor="end" class="pc">15.9</text>
<text x="363.90" y="152.30" text-anchor="end" class="pc">49.6</text>
<text x="363.90" y="232.50" text-anchor="end" class="pc">33.8</text>
<rect x="554.70" y="330.04" width="15.00" height="9.36" fill="#74dbd0" stroke="#000" stroke-width="1.2"/>
<rect x="573.45" y="332.44" width="15.00" height="6.96" fill="#74dbd0" stroke="#000" stroke-width="1.2"/>
<rect x="592.20" y="335.18" width="15.00" height="4.22" fill="#74dbd0" stroke="#000" stroke-width="1.2"/>
<rect x="592.20" y="332.21" width="15.00" height="2.97" fill="#d8f5a9" stroke="#000" stroke-width="1.2"/>
<rect x="610.95" y="335.18" width="15.00" height="4.22" fill="#74dbd0" stroke="#000" stroke-width="1.2"/>
<rect x="610.95" y="322.40" width="15.00" height="12.78" fill="#d8f5a9" stroke="#000" stroke-width="1.2"/>
<rect x="629.70" y="333.47" width="15.00" height="5.93" fill="#74dbd0" stroke="#000" stroke-width="1.2"/>
<rect x="629.70" y="284.29" width="15.00" height="49.18" fill="#d8f5a9" stroke="#000" stroke-width="1.2"/>
<rect x="629.70" y="281.55" width="15.00" height="2.74" fill="#e7b4cc" stroke="#000" stroke-width="1.2"/>
<rect x="648.45" y="328.33" width="15.00" height="11.07" fill="#74dbd0" stroke="#000" stroke-width="1.2"/>
<rect x="648.45" y="238.99" width="15.00" height="89.34" fill="#d8f5a9" stroke="#000" stroke-width="1.2"/>
<rect x="648.45" y="217.77" width="15.00" height="21.22" fill="#e7b4cc" stroke="#000" stroke-width="1.2"/>
<rect x="667.20" y="308.59" width="15.00" height="30.81" fill="#74dbd0" stroke="#000" stroke-width="1.2"/>
<rect x="667.20" y="230.55" width="15.00" height="78.04" fill="#d8f5a9" stroke="#000" stroke-width="1.2"/>
<rect x="667.20" y="138.81" width="15.00" height="91.74" fill="#e7b4cc" stroke="#000" stroke-width="1.2"/>
<rect x="685.95" y="290.11" width="15.00" height="49.29" fill="#74dbd0" stroke="#000" stroke-width="1.2"/>
<rect x="685.95" y="260.44" width="15.00" height="29.67" fill="#d8f5a9" stroke="#000" stroke-width="1.2"/>
<rect x="685.95" y="147.14" width="15.00" height="113.30" fill="#e7b4cc" stroke="#000" stroke-width="1.2"/>
<rect x="704.70" y="304.83" width="15.00" height="34.57" fill="#74dbd0" stroke="#000" stroke-width="1.2"/>
<rect x="704.70" y="292.62" width="15.00" height="12.21" fill="#d8f5a9" stroke="#000" stroke-width="1.2"/>
<rect x="704.70" y="259.42" width="15.00" height="33.20" fill="#e7b4cc" stroke="#000" stroke-width="1.2"/>
<rect x="723.45" y="319.66" width="15.00" height="19.74" fill="#74dbd0" stroke="#000" stroke-width="1.2"/>
<rect x="723.45" y="314.07" width="15.00" height="5.59" fill="#d8f5a9" stroke="#000" stroke-width="1.2"/>
<rect x="723.45" y="312.02" width="15.00" height="2.05" fill="#e7b4cc" stroke="#000" stroke-width="1.2"/>
<rect x="742.20" y="325.71" width="15.00" height="13.69" fill="#74dbd0" stroke="#000" stroke-width="1.2"/>
<rect x="742.20" y="324.80" width="15.00" height="0.91" fill="#d8f5a9" stroke="#000" stroke-width="1.2"/>
<rect x="742.20" y="323.77" width="15.00" height="1.03" fill="#e7b4cc" stroke="#000" stroke-width="1.2"/>
<rect x="760.95" y="327.19" width="15.00" height="12.21" fill="#74dbd0" stroke="#000" stroke-width="1.2"/>
<rect x="798.40" y="338.26" width="15.00" height="1.14" fill="#e8b98f" stroke="#000" stroke-width="1.2"/>
<rect x="798.40" y="285.09" width="15.00" height="53.17" fill="#74dbd0" stroke="#000" stroke-width="1.2"/>
<rect x="798.40" y="209.90" width="15.00" height="75.19" fill="#d8f5a9" stroke="#000" stroke-width="1.2"/>
<rect x="798.40" y="138.81" width="15.00" height="71.08" fill="#e7b4cc" stroke="#000" stroke-width="1.2"/>
<rect x="552.6" y="88.6" width="268.30" height="250.80" fill="none" stroke="#111" stroke-width="1.35"/>
<line x1="550.1" y1="339.40" x2="552.6" y2="339.40" stroke="#000" stroke-width="1.2"/>
<text x="546.30" y="346.30" text-anchor="end" class="tk">0</text>
<line x1="550.1" y1="282.35" x2="552.6" y2="282.35" stroke="#000" stroke-width="1.2"/>
<text x="546.30" y="289.25" text-anchor="end" class="tk">50</text>
<line x1="550.1" y1="225.30" x2="552.6" y2="225.30" stroke="#000" stroke-width="1.2"/>
<text x="546.30" y="232.20" text-anchor="end" class="tk">100</text>
<line x1="550.1" y1="168.25" x2="552.6" y2="168.25" stroke="#000" stroke-width="1.2"/>
<text x="546.30" y="175.15" text-anchor="end" class="tk">150</text>
<line x1="550.1" y1="111.20" x2="552.6" y2="111.20" stroke="#000" stroke-width="1.2"/>
<text x="546.30" y="118.10" text-anchor="end" class="tk">200</text>
<line x1="562.20" y1="339.4" x2="562.20" y2="341.9" stroke="#000" stroke-width="1.2"/>
<text x="559.95" y="362.40" text-anchor="middle" class="xt">1</text>
<line x1="580.95" y1="339.4" x2="580.95" y2="341.9" stroke="#000" stroke-width="1.2"/>
<text x="578.70" y="362.40" text-anchor="middle" class="xt">2</text>
<line x1="599.70" y1="339.4" x2="599.70" y2="341.9" stroke="#000" stroke-width="1.2"/>
<text x="597.45" y="362.40" text-anchor="middle" class="xt">3</text>
<line x1="618.45" y1="339.4" x2="618.45" y2="341.9" stroke="#000" stroke-width="1.2"/>
<text x="616.20" y="362.40" text-anchor="middle" class="xt">4</text>
<line x1="637.20" y1="339.4" x2="637.20" y2="341.9" stroke="#000" stroke-width="1.2"/>
<text x="634.95" y="362.40" text-anchor="middle" class="xt">5</text>
<line x1="655.95" y1="339.4" x2="655.95" y2="341.9" stroke="#000" stroke-width="1.2"/>
<text x="653.70" y="362.40" text-anchor="middle" class="xt">6</text>
<line x1="674.70" y1="339.4" x2="674.70" y2="341.9" stroke="#000" stroke-width="1.2"/>
<text x="672.45" y="362.40" text-anchor="middle" class="xt">7</text>
<line x1="693.45" y1="339.4" x2="693.45" y2="341.9" stroke="#000" stroke-width="1.2"/>
<text x="691.20" y="362.40" text-anchor="middle" class="xt">8</text>
<line x1="712.20" y1="339.4" x2="712.20" y2="341.9" stroke="#000" stroke-width="1.2"/>
<text x="709.95" y="362.40" text-anchor="middle" class="xt">9</text>
<line x1="730.95" y1="339.4" x2="730.95" y2="341.9" stroke="#000" stroke-width="1.2"/>
<text x="730.65" y="362.40" text-anchor="middle" class="xt">10</text>
<line x1="749.70" y1="339.4" x2="749.70" y2="341.9" stroke="#000" stroke-width="1.2"/>
<text x="749.40" y="362.40" text-anchor="middle" class="xt">11</text>
<line x1="768.45" y1="339.4" x2="768.45" y2="341.9" stroke="#000" stroke-width="1.2"/>
<text x="768.15" y="362.40" text-anchor="middle" class="xt">12</text>
<text x="560.30" y="111.20" class="ti">(c)Karakoram</text>
<text x="809.90" y="117.10" text-anchor="end" class="ti">TR:658mm</text>
<text x="560.20" y="152.20" class="gc">GC:21.7%</text>
<text x="795.70" y="180.70" text-anchor="end" class="pc">35.3</text>
<text x="795.70" y="255.40" text-anchor="end" class="pc">37.7</text>
<text x="795.70" y="318.90" text-anchor="end" class="pc">26.5</text>
<rect x="75.80" y="804.70" width="15.00" height="8.90" fill="#74dbd0" stroke="#000" stroke-width="1.2"/>
<rect x="94.55" y="806.18" width="15.00" height="7.42" fill="#74dbd0" stroke="#000" stroke-width="1.2"/>
<rect x="113.30" y="808.01" width="15.00" height="5.59" fill="#74dbd0" stroke="#000" stroke-width="1.2"/>
<rect x="113.30" y="802.76" width="15.00" height="5.25" fill="#d8f5a9" stroke="#000" stroke-width="1.2"/>
<rect x="132.05" y="806.87" width="15.00" height="6.73" fill="#74dbd0" stroke="#000" stroke-width="1.2"/>
<rect x="132.05" y="785.76" width="15.00" height="21.11" fill="#d8f5a9" stroke="#000" stroke-width="1.2"/>
<rect x="150.80" y="805.04" width="15.00" height="8.56" fill="#74dbd0" stroke="#000" stroke-width="1.2"/>
<rect x="150.80" y="746.85" width="15.00" height="58.19" fill="#d8f5a9" stroke="#000" stroke-width="1.2"/>
<rect x="150.80" y="745.37" width="15.00" height="1.48" fill="#e7b4cc" stroke="#000" stroke-width="1.2"/>
<rect x="169.55" y="796.94" width="15.00" height="16.66" fill="#74dbd0" stroke="#000" stroke-width="1.2"/>
<rect x="169.55" y="714.90" width="15.00" height="82.04" fill="#d8f5a9" stroke="#000" stroke-width="1.2"/>
<rect x="169.55" y="703.15" width="15.00" height="11.75" fill="#e7b4cc" stroke="#000" stroke-width="1.2"/>
<rect x="188.30" y="773.89" width="15.00" height="39.71" fill="#74dbd0" stroke="#000" stroke-width="1.2"/>
<rect x="188.30" y="723.80" width="15.00" height="50.09" fill="#d8f5a9" stroke="#000" stroke-width="1.2"/>
<rect x="188.30" y="676.34" width="15.00" height="47.47" fill="#e7b4cc" stroke="#000" stroke-width="1.2"/>
<rect x="207.05" y="769.10" width="15.00" height="44.50" fill="#74dbd0" stroke="#000" stroke-width="1.2"/>
<rect x="207.05" y="755.41" width="15.00" height="13.69" fill="#d8f5a9" stroke="#000" stroke-width="1.2"/>
<rect x="207.05" y="698.59" width="15.00" height="56.82" fill="#e7b4cc" stroke="#000" stroke-width="1.2"/>
<rect x="225.80" y="783.14" width="15.00" height="30.46" fill="#74dbd0" stroke="#000" stroke-width="1.2"/>
<rect x="225.80" y="777.32" width="15.00" height="5.82" fill="#d8f5a9" stroke="#000" stroke-width="1.2"/>
<rect x="225.80" y="758.60" width="15.00" height="18.71" fill="#e7b4cc" stroke="#000" stroke-width="1.2"/>
<rect x="244.55" y="796.94" width="15.00" height="16.66" fill="#74dbd0" stroke="#000" stroke-width="1.2"/>
<rect x="244.55" y="793.18" width="15.00" height="3.77" fill="#d8f5a9" stroke="#000" stroke-width="1.2"/>
<rect x="244.55" y="790.21" width="15.00" height="2.97" fill="#e7b4cc" stroke="#000" stroke-width="1.2"/>
<rect x="263.30" y="802.53" width="15.00" height="11.07" fill="#74dbd0" stroke="#000" stroke-width="1.2"/>
<rect x="263.30" y="800.48" width="15.00" height="2.05" fill="#d8f5a9" stroke="#000" stroke-width="1.2"/>
<rect x="263.30" y="799.45" width="15.00" height="1.03" fill="#e7b4cc" stroke="#000" stroke-width="1.2"/>
<rect x="282.05" y="803.22" width="15.00" height="10.38" fill="#74dbd0" stroke="#000" stroke-width="1.2"/>
<rect x="319.50" y="812.92" width="15.00" height="0.68" fill="#e8b98f" stroke="#000" stroke-width="1.2"/>
<rect x="319.50" y="765.79" width="15.00" height="47.12" fill="#74dbd0" stroke="#000" stroke-width="1.2"/>
<rect x="319.50" y="708.63" width="15.00" height="57.16" fill="#d8f5a9" stroke="#000" stroke-width="1.2"/>
<rect x="319.50" y="676.34" width="15.00" height="32.29" fill="#e7b4cc" stroke="#000" stroke-width="1.2"/>
<rect x="73.7" y="562.3" width="268.30" height="251.30" fill="none" stroke="#111" stroke-width="1.35"/>
<line x1="71.2" y1="813.60" x2="73.7" y2="813.60" stroke="#000" stroke-width="1.2"/>
<text x="67.40" y="820.50" text-anchor="end" class="tk">0</text>
<line x1="71.2" y1="756.55" x2="73.7" y2="756.55" stroke="#000" stroke-width="1.2"/>
<text x="67.40" y="763.45" text-anchor="end" class="tk">50</text>
<line x1="71.2" y1="699.50" x2="73.7" y2="699.50" stroke="#000" stroke-width="1.2"/>
<text x="67.40" y="706.40" text-anchor="end" class="tk">100</text>
<line x1="71.2" y1="642.45" x2="73.7" y2="642.45" stroke="#000" stroke-width="1.2"/>
<text x="67.40" y="649.35" text-anchor="end" class="tk">150</text>
<line x1="71.2" y1="585.40" x2="73.7" y2="585.40" stroke="#000" stroke-width="1.2"/>
<text x="67.40" y="592.30" text-anchor="end" class="tk">200</text>
<line x1="83.30" y1="813.6" x2="83.30" y2="816.1" stroke="#000" stroke-width="1.2"/>
<text x="81.05" y="836.60" text-anchor="middle" class="xt">1</text>
<line x1="102.05" y1="813.6" x2="102.05" y2="816.1" stroke="#000" stroke-width="1.2"/>
<text x="99.80" y="836.60" text-anchor="middle" class="xt">2</text>
<line x1="120.80" y1="813.6" x2="120.80" y2="816.1" stroke="#000" stroke-width="1.2"/>
<text x="118.55" y="836.60" text-anchor="middle" class="xt">3</text>
<line x1="139.55" y1="813.6" x2="139.55" y2="816.1" stroke="#000" stroke-width="1.2"/>
<text x="137.30" y="836.60" text-anchor="middle" class="xt">4</text>
<line x1="158.30" y1="813.6" x2="158.30" y2="816.1" stroke="#000" stroke-width="1.2"/>
<text x="156.05" y="836.60" text-anchor="middle" class="xt">5</text>
<line x1="177.05" y1="813.6" x2="177.05" y2="816.1" stroke="#000" stroke-width="1.2"/>
<text x="174.80" y="836.60" text-anchor="middle" class="xt">6</text>
<line x1="195.80" y1="813.6" x2="195.80" y2="816.1" stroke="#000" stroke-width="1.2"/>
<text x="193.55" y="836.60" text-anchor="middle" class="xt">7</text>
<line x1="214.55" y1="813.6" x2="214.55" y2="816.1" stroke="#000" stroke-width="1.2"/>
<text x="212.30" y="836.60" text-anchor="middle" class="xt">8</text>
<line x1="233.30" y1="813.6" x2="233.30" y2="816.1" stroke="#000" stroke-width="1.2"/>
<text x="231.05" y="836.60" text-anchor="middle" class="xt">9</text>
<line x1="252.05" y1="813.6" x2="252.05" y2="816.1" stroke="#000" stroke-width="1.2"/>
<text x="251.75" y="836.60" text-anchor="middle" class="xt">10</text>
<line x1="270.80" y1="813.6" x2="270.80" y2="816.1" stroke="#000" stroke-width="1.2"/>
<text x="270.50" y="836.60" text-anchor="middle" class="xt">11</text>
<line x1="289.55" y1="813.6" x2="289.55" y2="816.1" stroke="#000" stroke-width="1.2"/>
<text x="289.25" y="836.60" text-anchor="middle" class="xt">12</text>
<text x="81.40" y="584.90" class="ti">(a)UIB</text>
<text x="331.00" y="590.80" text-anchor="end" class="ti">TR:516mm</text>
<text x="81.30" y="625.90" class="gc">GC:9.5%</text>
<text x="316.80" y="698.90" text-anchor="end" class="pc">23.3</text>
<text x="316.80" y="744.40" text-anchor="end" class="pc">41.5</text>
<text x="316.80" y="797.00" text-anchor="end" class="pc">34.7</text>
<rect x="485.80" y="943.54" width="15.00" height="9.36" fill="#74dbd0" stroke="#000" stroke-width="1.2"/>
<rect x="504.55" y="945.83" width="15.00" height="7.07" fill="#74dbd0" stroke="#000" stroke-width="1.2"/>
<rect x="523.30" y="948.34" width="15.00" height="4.56" fill="#74dbd0" stroke="#000" stroke-width="1.2"/>
<rect x="523.30" y="946.05" width="15.00" height="2.28" fill="#d8f5a9" stroke="#000" stroke-width="1.2"/>
<rect x="523.30" y="944.68" width="15.00" height="1.37" fill="#e7b4cc" stroke="#000" stroke-width="1.2"/>
<rect x="542.05" y="949.13" width="15.00" height="3.77" fill="#74dbd0" stroke="#000" stroke-width="1.2"/>
<rect x="542.05" y="931.34" width="15.00" height="17.80" fill="#d8f5a9" stroke="#000" stroke-width="1.2"/>
<rect x="560.80" y="947.99" width="15.00" height="4.91" fill="#74dbd0" stroke="#000" stroke-width="1.2"/>
<rect x="560.80" y="874.17" width="15.00" height="73.82" fill="#d8f5a9" stroke="#000" stroke-width="1.2"/>
<rect x="560.80" y="872.80" width="15.00" height="1.37" fill="#e7b4cc" stroke="#000" stroke-width="1.2"/>
<rect x="579.55" y="929.85" width="15.00" height="23.05" fill="#74dbd0" stroke="#000" stroke-width="1.2"/>
<rect x="579.55" y="817.46" width="15.00" height="112.39" fill="#d8f5a9" stroke="#000" stroke-width="1.2"/>
<rect x="579.55" y="805.94" width="15.00" height="11.52" fill="#e7b4cc" stroke="#000" stroke-width="1.2"/>
<rect x="598.30" y="892.43" width="15.00" height="60.47" fill="#74dbd0" stroke="#000" stroke-width="1.2"/>
<rect x="598.30" y="833.44" width="15.00" height="58.99" fill="#d8f5a9" stroke="#000" stroke-width="1.2"/>
<rect x="598.30" y="792.25" width="15.00" height="41.19" fill="#e7b4cc" stroke="#000" stroke-width="1.2"/>
<rect x="617.05" y="899.16" width="15.00" height="53.74" fill="#74dbd0" stroke="#000" stroke-width="1.2"/>
<rect x="617.05" y="891.74" width="15.00" height="7.42" fill="#d8f5a9" stroke="#000" stroke-width="1.2"/>
<rect x="617.05" y="843.36" width="15.00" height="48.38" fill="#e7b4cc" stroke="#000" stroke-width="1.2"/>
<rect x="635.80" y="919.47" width="15.00" height="33.43" fill="#74dbd0" stroke="#000" stroke-width="1.2"/>
<rect x="635.80" y="914.68" width="15.00" height="4.79" fill="#d8f5a9" stroke="#000" stroke-width="1.2"/>
<rect x="635.80" y="894.59" width="15.00" height="20.08" fill="#e7b4cc" stroke="#000" stroke-width="1.2"/>
<rect x="654.55" y="934.30" width="15.00" height="18.60" fill="#74dbd0" stroke="#000" stroke-width="1.2"/>
<rect x="654.55" y="930.08" width="15.00" height="4.22" fill="#d8f5a9" stroke="#000" stroke-width="1.2"/>
<rect x="654.55" y="926.89" width="15.00" height="3.19" fill="#e7b4cc" stroke="#000" stroke-width="1.2"/>
<rect x="673.30" y="941.72" width="15.00" height="11.18" fill="#74dbd0" stroke="#000" stroke-width="1.2"/>
<rect x="673.30" y="938.98" width="15.00" height="2.74" fill="#d8f5a9" stroke="#000" stroke-width="1.2"/>
<rect x="673.30" y="937.27" width="15.00" height="1.71" fill="#e7b4cc" stroke="#000" stroke-width="1.2"/>
<rect x="692.05" y="941.03" width="15.00" height="11.87" fill="#74dbd0" stroke="#000" stroke-width="1.2"/>
<rect x="729.50" y="951.99" width="15.00" height="0.91" fill="#e8b98f" stroke="#000" stroke-width="1.2"/>
<rect x="729.50" y="893.11" width="15.00" height="58.88" fill="#74dbd0" stroke="#000" stroke-width="1.2"/>
<rect x="729.50" y="822.94" width="15.00" height="70.17" fill="#d8f5a9" stroke="#000" stroke-width="1.2"/>
<rect x="729.50" y="792.25" width="15.00" height="30.69" fill="#e7b4cc" stroke="#000" stroke-width="1.2"/>
<rect x="483.7" y="702.4" width="268.30" height="250.50" fill="none" stroke="#111" stroke-width="1.35"/>
<line x1="481.2" y1="952.90" x2="483.7" y2="952.90" stroke="#000" stroke-width="1.2"/>
<text x="477.40" y="959.80" text-anchor="end" class="tk">0</text>
<line x1="481.2" y1="895.85" x2="483.7" y2="895.85" stroke="#000" stroke-width="1.2"/>
<text x="477.40" y="902.75" text-anchor="end" class="tk">50</text>
<line x1="481.2" y1="838.80" x2="483.7" y2="838.80" stroke="#000" stroke-width="1.2"/>
<text x="477.40" y="845.70" text-anchor="end" class="tk">100</text>
<line x1="481.2" y1="781.75" x2="483.7" y2="781.75" stroke="#000" stroke-width="1.2"/>
<text x="477.40" y="788.65" text-anchor="end" class="tk">150</text>
<line x1="481.2" y1="724.70" x2="483.7" y2="724.70" stroke="#000" stroke-width="1.2"/>
<text x="477.40" y="731.60" text-anchor="end" class="tk">200</text>
<line x1="493.30" y1="952.9" x2="493.30" y2="955.4" stroke="#000" stroke-width="1.2"/>
<text x="491.05" y="975.90" text-anchor="middle" class="xt">1</text>
<line x1="512.05" y1="952.9" x2="512.05" y2="955.4" stroke="#000" stroke-width="1.2"/>
<text x="509.80" y="975.90" text-anchor="middle" class="xt">2</text>
<line x1="530.80" y1="952.9" x2="530.80" y2="955.4" stroke="#000" stroke-width="1.2"/>
<text x="528.55" y="975.90" text-anchor="middle" class="xt">3</text>
<line x1="549.55" y1="952.9" x2="549.55" y2="955.4" stroke="#000" stroke-width="1.2"/>
<text x="547.30" y="975.90" text-anchor="middle" class="xt">4</text>
<line x1="568.30" y1="952.9" x2="568.30" y2="955.4" stroke="#000" stroke-width="1.2"/>
<text x="566.05" y="975.90" text-anchor="middle" class="xt">5</text>
<line x1="587.05" y1="952.9" x2="587.05" y2="955.4" stroke="#000" stroke-width="1.2"/>
<text x="584.80" y="975.90" text-anchor="middle" class="xt">6</text>
<line x1="605.80" y1="952.9" x2="605.80" y2="955.4" stroke="#000" stroke-width="1.2"/>
<text x="603.55" y="975.90" text-anchor="middle" class="xt">7</text>
<line x1="624.55" y1="952.9" x2="624.55" y2="955.4" stroke="#000" stroke-width="1.2"/>
<text x="622.30" y="975.90" text-anchor="middle" class="xt">8</text>
<line x1="643.30" y1="952.9" x2="643.30" y2="955.4" stroke="#000" stroke-width="1.2"/>
<text x="641.05" y="975.90" text-anchor="middle" class="xt">9</text>
<line x1="662.05" y1="952.9" x2="662.05" y2="955.4" stroke="#000" stroke-width="1.2"/>
<text x="661.75" y="975.90" text-anchor="middle" class="xt">10</text>
<line x1="680.80" y1="952.9" x2="680.80" y2="955.4" stroke="#000" stroke-width="1.2"/>
<text x="680.50" y="975.90" text-anchor="middle" class="xt">11</text>
<line x1="699.55" y1="952.9" x2="699.55" y2="955.4" stroke="#000" stroke-width="1.2"/>
<text x="699.25" y="975.90" text-anchor="middle" class="xt">12</text>
<text x="491.40" y="725.00" class="ti">(d)Himalaya</text>
<text x="741.00" y="730.90" text-anchor="end" class="ti">TR:574mm</text>
<text x="491.30" y="766.00" class="gc">GC:5.5%</text>
<text x="726.80" y="814.80" text-anchor="end" class="pc">19.0</text>
<text x="726.80" y="865.90" text-anchor="end" class="pc">43.9</text>
<text x="726.80" y="930.40" text-anchor="end" class="pc">36.4</text>
<rect x="66" y="405.0" width="21" height="12.8" fill="#e7b4cc" stroke="#000" stroke-width="1.3"/>
<text x="87.6" y="417.6" class="lg">Glacier melt</text>
<rect x="66" y="427.9" width="21" height="12.8" fill="#d8f5a9" stroke="#000" stroke-width="1.3"/>
<text x="87.6" y="440.5" class="lg">Snowmelt runoff</text>
<rect x="66" y="450.8" width="21" height="12.8" fill="#74dbd0" stroke="#000" stroke-width="1.3"/>
<text x="87.6" y="463.4" class="lg">Rainfall runoff</text>
<rect x="66" y="473.7" width="21" height="12.8" fill="#e8b98f" stroke="#000" stroke-width="1.3"/>
<text x="87.6" y="486.3" class="lg">Baseflow</text>
<circle cx="552.3" cy="456.3" r="3.4" fill="#e00000"/><circle cx="552.3" cy="456.3" r="1" fill="#300"/>
<text x="562.3" y="460.3" class="ml">Outlet</text>
<polygon points="552.3,469 548.5,475.8 556.1,475.8" fill="#e00000"/>
<text x="562.3" y="476.9" class="ml">Discharge Station</text>
<line x1="545.3" y1="488.4" x2="559.3" y2="488.4" stroke="#40a0f0" stroke-width="1.2"/>
<text x="562.3" y="492.7" class="ml">River</text>
<path d="M549.2,502.8 L554.2,501.4 L554.5,503.1 L556.6,504.2 L557,505.6 L554.9,507 L550.6,508.1 L547.8,508.1 L548.1,506.3 L548.9,504.9 L548.1,503.9Z" fill="#9ea8e4" stroke="#9ea8e4" stroke-width="0.6" stroke-linejoin="round"/>
<text x="562.3" y="509.2" class="ml">Glacier</text>
<path d="M547.1,519.8 L548.9,518.5 L550.6,519.1 L552,519.8 L554.2,519.1 L555.6,518 L557,518.7 L557.4,520.5 L557,521.9 L557.7,523.3 L556.3,524 L554.2,523.3 L552,522.6 L550.3,523.7 L548.1,523.7 L547.1,522.3Z" fill="#b2e070" stroke="#000" stroke-width="1.3" stroke-linejoin="round"/>
<text x="562.3" y="525.5" class="ml">Basin Boundary</text>
</svg>
</body></html>
